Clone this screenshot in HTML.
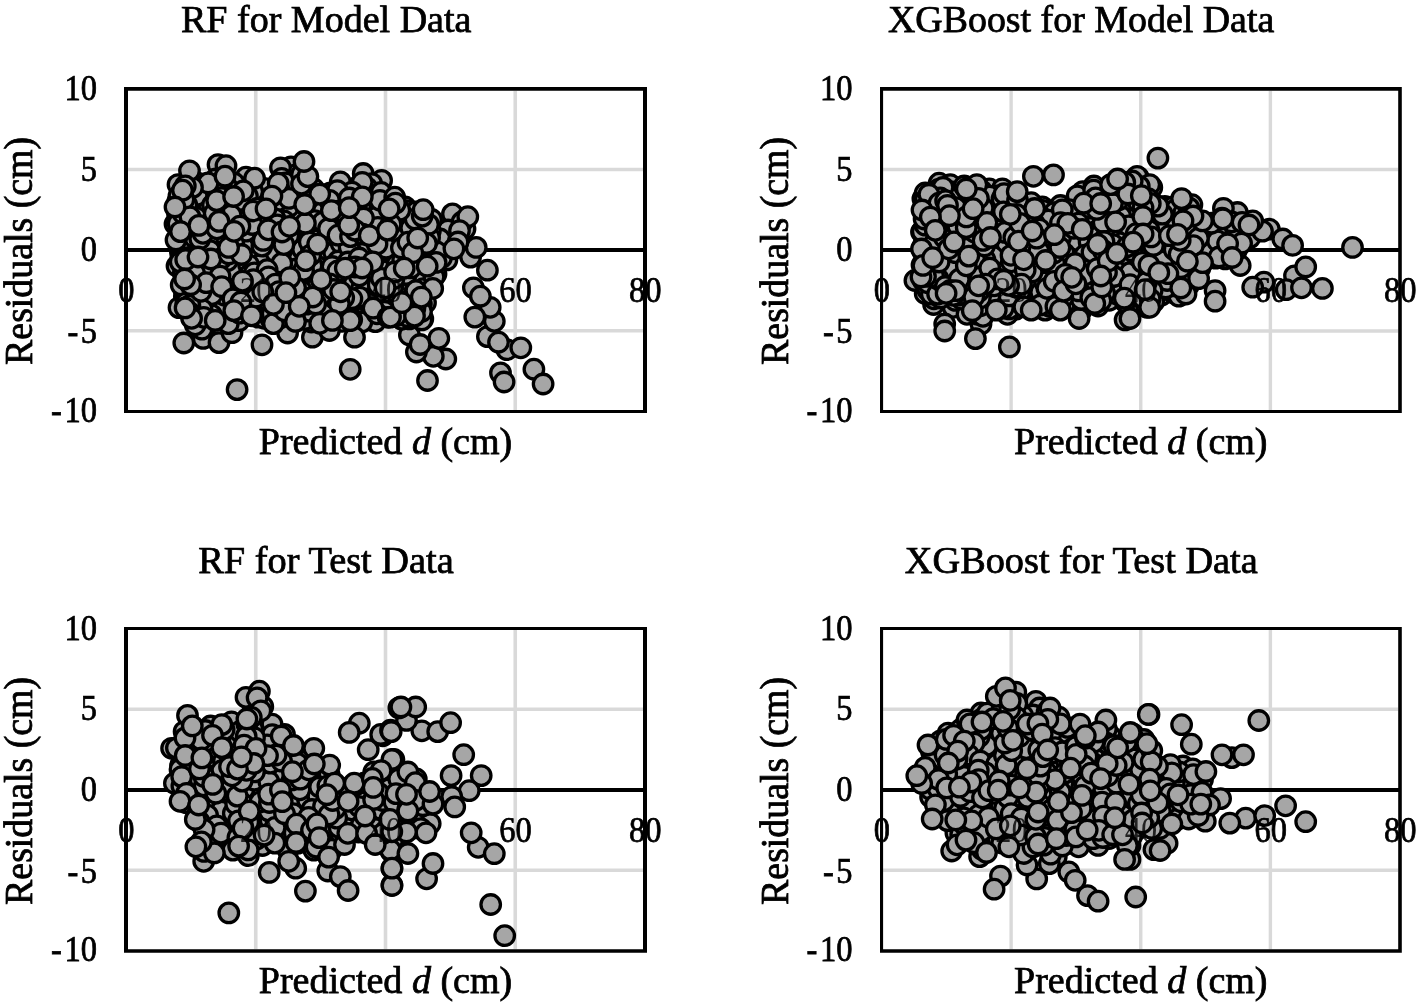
<!DOCTYPE html>
<html><head><meta charset="utf-8"><title>Residual plots</title>
<style>html,body{margin:0;padding:0;background:#fff}svg{display:block}text{font-family:"Liberation Serif","Times New Roman",serif;fill:#000;stroke:#000;stroke-width:0.75px}</style></head><body>
<svg width="1421" height="1004" viewBox="0 0 1421 1004" font-size="37">
<rect width="1421" height="1004" fill="#fff"/>
<g>
<path d="M255.75 90.7V409.9M385.50 90.7V409.9M515.25 90.7V409.9" stroke="#d9d9d9" stroke-width="3.6" fill="none"/>
<path d="M128.0 169.55H643.0M128.0 330.85H643.0" stroke="#d9d9d9" stroke-width="3.5" fill="none"/>
<path d="M124.0 87.1H128.0V413.1H124.0ZM643.0 87.1H647.0V413.1H643.0ZM124.0 87.1H647.0V90.7H124.0ZM124.0 409.9H647.0V413.1H124.0ZM124.0 248.0H647.0V252.0H124.0Z" fill="#000"/>
<text x="326.2" y="32.2" text-anchor="middle" textLength="290.5" lengthAdjust="spacingAndGlyphs">RF for Model Data</text>
<text font-size="35.3" x="97.0" y="100.0" text-anchor="end" textLength="32.5" lengthAdjust="spacingAndGlyphs">10</text>
<text font-size="35.3" x="97.0" y="180.7" text-anchor="end" textLength="16.2" lengthAdjust="spacingAndGlyphs">5</text>
<text font-size="35.3" x="97.0" y="261.3" text-anchor="end" textLength="16.2" lengthAdjust="spacingAndGlyphs">0</text>
<text font-size="35.3" x="97.0" y="343.2" text-anchor="end" textLength="29.6" lengthAdjust="spacingAndGlyphs"><tspan letter-spacing="2.8">-</tspan>5</text>
<text font-size="35.3" x="97.0" y="421.7" text-anchor="end" textLength="45.9" lengthAdjust="spacingAndGlyphs"><tspan letter-spacing="2.8">-</tspan>10</text>
<text x="385.5" y="453.5" text-anchor="middle" textLength="253.5" lengthAdjust="spacingAndGlyphs">Predicted <tspan font-style="italic">d</tspan> (cm)</text>
<text transform="translate(32.2 250.9) rotate(-90) scale(1 1.07)" text-anchor="middle" textLength="228.0" lengthAdjust="spacingAndGlyphs">Residuals (cm)</text>
<g fill="#a6a6a6" stroke="#000" stroke-width="3.3">
<circle cx="269.5" cy="242.9" r="9.75"/><circle cx="377.7" cy="186.4" r="9.75"/><circle cx="203.2" cy="210.7" r="9.75"/><circle cx="384.4" cy="257.1" r="9.75"/><circle cx="354.0" cy="202.9" r="9.75"/><circle cx="316.2" cy="232.7" r="9.75"/><circle cx="216.5" cy="329.3" r="9.75"/><circle cx="363.2" cy="173.5" r="9.75"/>
<circle cx="270.9" cy="190.1" r="9.75"/><circle cx="299.0" cy="234.4" r="9.75"/><circle cx="302.0" cy="242.2" r="9.75"/><circle cx="405.1" cy="206.9" r="9.75"/><circle cx="250.1" cy="236.7" r="9.75"/><circle cx="411.6" cy="234.7" r="9.75"/><circle cx="381.6" cy="180.4" r="9.75"/><circle cx="198.7" cy="284.6" r="9.75"/>
<circle cx="321.8" cy="229.1" r="9.75"/><circle cx="177.5" cy="213.7" r="9.75"/><circle cx="365.9" cy="261.0" r="9.75"/><circle cx="247.5" cy="258.5" r="9.75"/><circle cx="307.0" cy="234.4" r="9.75"/><circle cx="385.1" cy="216.0" r="9.75"/><circle cx="283.4" cy="299.0" r="9.75"/><circle cx="287.1" cy="177.1" r="9.75"/>
<circle cx="218.0" cy="164.6" r="9.75"/><circle cx="407.3" cy="309.3" r="9.75"/><circle cx="308.5" cy="291.5" r="9.75"/><circle cx="341.9" cy="321.3" r="9.75"/><circle cx="266.9" cy="215.6" r="9.75"/><circle cx="208.6" cy="330.8" r="9.75"/><circle cx="204.3" cy="238.2" r="9.75"/><circle cx="226.0" cy="165.7" r="9.75"/>
<circle cx="452.5" cy="213.9" r="9.75"/><circle cx="312.4" cy="337.2" r="9.75"/><circle cx="387.9" cy="304.0" r="9.75"/><circle cx="199.8" cy="262.0" r="9.75"/><circle cx="244.2" cy="208.2" r="9.75"/><circle cx="394.8" cy="302.3" r="9.75"/><circle cx="205.5" cy="195.0" r="9.75"/><circle cx="308.4" cy="183.7" r="9.75"/>
<circle cx="430.0" cy="285.0" r="9.75"/><circle cx="359.5" cy="249.5" r="9.75"/><circle cx="197.5" cy="232.9" r="9.75"/><circle cx="223.6" cy="280.6" r="9.75"/><circle cx="382.6" cy="240.5" r="9.75"/><circle cx="382.5" cy="209.6" r="9.75"/><circle cx="221.3" cy="248.9" r="9.75"/><circle cx="207.0" cy="200.7" r="9.75"/>
<circle cx="182.3" cy="268.9" r="9.75"/><circle cx="180.4" cy="251.9" r="9.75"/><circle cx="260.2" cy="302.6" r="9.75"/><circle cx="326.4" cy="194.6" r="9.75"/><circle cx="298.4" cy="253.3" r="9.75"/><circle cx="214.5" cy="185.0" r="9.75"/><circle cx="301.4" cy="229.3" r="9.75"/><circle cx="371.1" cy="194.6" r="9.75"/>
<circle cx="374.5" cy="270.2" r="9.75"/><circle cx="187.9" cy="273.5" r="9.75"/><circle cx="286.3" cy="317.3" r="9.75"/><circle cx="391.8" cy="215.2" r="9.75"/><circle cx="194.4" cy="305.7" r="9.75"/><circle cx="398.6" cy="308.9" r="9.75"/><circle cx="358.1" cy="306.9" r="9.75"/><circle cx="175.0" cy="224.0" r="9.75"/>
<circle cx="487.4" cy="336.6" r="9.75"/><circle cx="191.2" cy="277.0" r="9.75"/><circle cx="282.4" cy="254.2" r="9.75"/><circle cx="533.9" cy="369.2" r="9.75"/><circle cx="242.5" cy="295.6" r="9.75"/><circle cx="235.6" cy="255.8" r="9.75"/><circle cx="418.0" cy="225.2" r="9.75"/><circle cx="261.2" cy="229.7" r="9.75"/>
<circle cx="258.5" cy="189.3" r="9.75"/><circle cx="221.1" cy="234.5" r="9.75"/><circle cx="409.4" cy="335.0" r="9.75"/><circle cx="194.7" cy="265.1" r="9.75"/><circle cx="371.0" cy="285.8" r="9.75"/><circle cx="250.8" cy="217.9" r="9.75"/><circle cx="423.2" cy="256.8" r="9.75"/><circle cx="237.4" cy="190.9" r="9.75"/>
<circle cx="297.9" cy="313.5" r="9.75"/><circle cx="277.0" cy="270.6" r="9.75"/><circle cx="286.2" cy="249.7" r="9.75"/><circle cx="424.1" cy="249.8" r="9.75"/><circle cx="403.6" cy="228.5" r="9.75"/><circle cx="377.7" cy="301.3" r="9.75"/><circle cx="357.4" cy="186.8" r="9.75"/><circle cx="269.0" cy="253.0" r="9.75"/>
<circle cx="448.0" cy="230.0" r="9.75"/><circle cx="184.9" cy="265.1" r="9.75"/><circle cx="313.3" cy="201.9" r="9.75"/><circle cx="254.8" cy="250.5" r="9.75"/><circle cx="199.5" cy="274.3" r="9.75"/><circle cx="445.8" cy="359.0" r="9.75"/><circle cx="288.8" cy="322.2" r="9.75"/><circle cx="389.9" cy="263.1" r="9.75"/>
<circle cx="190.7" cy="210.5" r="9.75"/><circle cx="184.4" cy="296.9" r="9.75"/><circle cx="182.0" cy="258.5" r="9.75"/><circle cx="342.4" cy="202.0" r="9.75"/><circle cx="381.4" cy="221.8" r="9.75"/><circle cx="263.9" cy="195.1" r="9.75"/><circle cx="267.5" cy="306.9" r="9.75"/><circle cx="241.0" cy="260.0" r="9.75"/>
<circle cx="399.0" cy="285.3" r="9.75"/><circle cx="433.3" cy="356.3" r="9.75"/><circle cx="199.6" cy="183.7" r="9.75"/><circle cx="410.2" cy="286.8" r="9.75"/><circle cx="205.0" cy="262.8" r="9.75"/><circle cx="318.3" cy="250.7" r="9.75"/><circle cx="292.2" cy="179.4" r="9.75"/><circle cx="419.2" cy="272.7" r="9.75"/>
<circle cx="252.8" cy="204.5" r="9.75"/><circle cx="337.3" cy="314.2" r="9.75"/><circle cx="275.2" cy="259.5" r="9.75"/><circle cx="197.6" cy="249.1" r="9.75"/><circle cx="215.7" cy="265.0" r="9.75"/><circle cx="391.7" cy="236.2" r="9.75"/><circle cx="367.4" cy="272.7" r="9.75"/><circle cx="473.4" cy="287.8" r="9.75"/>
<circle cx="446.9" cy="259.9" r="9.75"/><circle cx="266.5" cy="301.2" r="9.75"/><circle cx="215.7" cy="179.0" r="9.75"/><circle cx="257.6" cy="310.4" r="9.75"/><circle cx="260.9" cy="201.5" r="9.75"/><circle cx="370.9" cy="292.6" r="9.75"/><circle cx="388.9" cy="296.5" r="9.75"/><circle cx="329.0" cy="294.3" r="9.75"/>
<circle cx="220.3" cy="269.8" r="9.75"/><circle cx="228.4" cy="314.0" r="9.75"/><circle cx="290.7" cy="271.2" r="9.75"/><circle cx="287.4" cy="287.1" r="9.75"/><circle cx="322.7" cy="307.9" r="9.75"/><circle cx="321.0" cy="271.1" r="9.75"/><circle cx="431.6" cy="219.5" r="9.75"/><circle cx="262.8" cy="312.6" r="9.75"/>
<circle cx="348.0" cy="291.4" r="9.75"/><circle cx="494.3" cy="321.3" r="9.75"/><circle cx="177.0" cy="266.0" r="9.75"/><circle cx="238.1" cy="288.2" r="9.75"/><circle cx="351.8" cy="219.4" r="9.75"/><circle cx="192.4" cy="205.4" r="9.75"/><circle cx="242.8" cy="237.6" r="9.75"/><circle cx="417.2" cy="261.3" r="9.75"/>
<circle cx="213.9" cy="195.3" r="9.75"/><circle cx="272.7" cy="266.4" r="9.75"/><circle cx="220.0" cy="302.0" r="9.75"/><circle cx="311.3" cy="322.0" r="9.75"/><circle cx="371.9" cy="248.4" r="9.75"/><circle cx="419.2" cy="244.7" r="9.75"/><circle cx="345.3" cy="189.6" r="9.75"/><circle cx="293.5" cy="249.8" r="9.75"/>
<circle cx="245.3" cy="314.2" r="9.75"/><circle cx="266.6" cy="202.6" r="9.75"/><circle cx="268.3" cy="263.0" r="9.75"/><circle cx="286.8" cy="258.0" r="9.75"/><circle cx="294.7" cy="227.8" r="9.75"/><circle cx="189.7" cy="262.6" r="9.75"/><circle cx="179.2" cy="241.1" r="9.75"/><circle cx="398.3" cy="220.4" r="9.75"/>
<circle cx="289.0" cy="212.4" r="9.75"/><circle cx="355.1" cy="291.5" r="9.75"/><circle cx="201.0" cy="323.5" r="9.75"/><circle cx="441.5" cy="257.7" r="9.75"/><circle cx="231.0" cy="201.7" r="9.75"/><circle cx="249.7" cy="247.2" r="9.75"/><circle cx="327.8" cy="301.6" r="9.75"/><circle cx="465.0" cy="229.0" r="9.75"/>
<circle cx="231.4" cy="208.2" r="9.75"/><circle cx="202.5" cy="278.2" r="9.75"/><circle cx="291.0" cy="166.8" r="9.75"/><circle cx="320.2" cy="316.8" r="9.75"/><circle cx="184.0" cy="290.0" r="9.75"/><circle cx="239.4" cy="232.8" r="9.75"/><circle cx="265.3" cy="257.9" r="9.75"/><circle cx="195.9" cy="320.8" r="9.75"/>
<circle cx="356.8" cy="243.3" r="9.75"/><circle cx="308.4" cy="275.2" r="9.75"/><circle cx="244.5" cy="289.9" r="9.75"/><circle cx="228.8" cy="303.4" r="9.75"/><circle cx="402.3" cy="223.7" r="9.75"/><circle cx="257.7" cy="317.2" r="9.75"/><circle cx="436.0" cy="274.0" r="9.75"/><circle cx="400.6" cy="278.9" r="9.75"/>
<circle cx="204.4" cy="205.9" r="9.75"/><circle cx="227.8" cy="233.7" r="9.75"/><circle cx="344.8" cy="278.0" r="9.75"/><circle cx="295.2" cy="275.9" r="9.75"/><circle cx="371.7" cy="183.6" r="9.75"/><circle cx="220.5" cy="323.3" r="9.75"/><circle cx="246.0" cy="177.2" r="9.75"/><circle cx="183.3" cy="273.3" r="9.75"/>
<circle cx="242.2" cy="267.7" r="9.75"/><circle cx="343.9" cy="219.9" r="9.75"/><circle cx="293.3" cy="257.5" r="9.75"/><circle cx="246.1" cy="225.4" r="9.75"/><circle cx="429.7" cy="253.7" r="9.75"/><circle cx="178.0" cy="184.6" r="9.75"/><circle cx="324.2" cy="264.6" r="9.75"/><circle cx="257.8" cy="288.9" r="9.75"/>
<circle cx="206.9" cy="325.4" r="9.75"/><circle cx="204.8" cy="227.6" r="9.75"/><circle cx="256.8" cy="265.1" r="9.75"/><circle cx="181.1" cy="209.3" r="9.75"/><circle cx="229.0" cy="291.7" r="9.75"/><circle cx="266.4" cy="283.2" r="9.75"/><circle cx="276.9" cy="207.9" r="9.75"/><circle cx="322.7" cy="202.8" r="9.75"/>
<circle cx="434.2" cy="243.5" r="9.75"/><circle cx="195.0" cy="242.5" r="9.75"/><circle cx="231.8" cy="319.1" r="9.75"/><circle cx="259.4" cy="281.5" r="9.75"/><circle cx="294.2" cy="200.5" r="9.75"/><circle cx="278.6" cy="214.4" r="9.75"/><circle cx="190.8" cy="201.1" r="9.75"/><circle cx="394.9" cy="253.6" r="9.75"/>
<circle cx="194.9" cy="222.8" r="9.75"/><circle cx="273.9" cy="278.4" r="9.75"/><circle cx="371.1" cy="319.9" r="9.75"/><circle cx="281.5" cy="195.4" r="9.75"/><circle cx="427.4" cy="287.8" r="9.75"/><circle cx="290.5" cy="265.3" r="9.75"/><circle cx="357.7" cy="315.9" r="9.75"/><circle cx="295.7" cy="174.8" r="9.75"/>
<circle cx="191.6" cy="196.6" r="9.75"/><circle cx="210.0" cy="232.9" r="9.75"/><circle cx="188.2" cy="268.2" r="9.75"/><circle cx="406.5" cy="210.7" r="9.75"/><circle cx="198.9" cy="188.6" r="9.75"/><circle cx="311.3" cy="226.6" r="9.75"/><circle cx="381.2" cy="267.2" r="9.75"/><circle cx="371.4" cy="203.7" r="9.75"/>
<circle cx="367.8" cy="211.0" r="9.75"/><circle cx="260.6" cy="251.9" r="9.75"/><circle cx="235.3" cy="293.3" r="9.75"/><circle cx="286.6" cy="303.9" r="9.75"/><circle cx="313.7" cy="315.3" r="9.75"/><circle cx="332.4" cy="306.7" r="9.75"/><circle cx="487.4" cy="270.2" r="9.75"/><circle cx="342.6" cy="284.1" r="9.75"/>
<circle cx="405.5" cy="221.6" r="9.75"/><circle cx="203.8" cy="245.3" r="9.75"/><circle cx="327.3" cy="238.2" r="9.75"/><circle cx="366.2" cy="252.0" r="9.75"/><circle cx="237.1" cy="389.6" r="9.75"/><circle cx="264.3" cy="318.3" r="9.75"/><circle cx="431.3" cy="274.5" r="9.75"/><circle cx="274.4" cy="245.6" r="9.75"/>
<circle cx="370.1" cy="218.0" r="9.75"/><circle cx="272.2" cy="204.7" r="9.75"/><circle cx="185.9" cy="284.5" r="9.75"/><circle cx="311.6" cy="282.6" r="9.75"/><circle cx="403.5" cy="291.6" r="9.75"/><circle cx="337.2" cy="197.1" r="9.75"/><circle cx="180.9" cy="257.4" r="9.75"/><circle cx="352.4" cy="256.6" r="9.75"/>
<circle cx="305.0" cy="319.5" r="9.75"/><circle cx="367.3" cy="312.9" r="9.75"/><circle cx="324.0" cy="257.4" r="9.75"/><circle cx="414.9" cy="281.7" r="9.75"/><circle cx="350.2" cy="369.3" r="9.75"/><circle cx="188.4" cy="192.3" r="9.75"/><circle cx="182.3" cy="218.5" r="9.75"/><circle cx="214.6" cy="236.1" r="9.75"/>
<circle cx="203.2" cy="252.9" r="9.75"/><circle cx="490.2" cy="307.3" r="9.75"/><circle cx="398.6" cy="296.8" r="9.75"/><circle cx="402.2" cy="239.3" r="9.75"/><circle cx="367.2" cy="224.4" r="9.75"/><circle cx="313.6" cy="188.7" r="9.75"/><circle cx="210.7" cy="308.5" r="9.75"/><circle cx="193.3" cy="192.2" r="9.75"/>
<circle cx="246.9" cy="202.8" r="9.75"/><circle cx="344.9" cy="231.1" r="9.75"/><circle cx="255.4" cy="258.9" r="9.75"/><circle cx="330.5" cy="193.0" r="9.75"/><circle cx="328.8" cy="313.0" r="9.75"/><circle cx="181.8" cy="246.7" r="9.75"/><circle cx="220.0" cy="205.7" r="9.75"/><circle cx="223.4" cy="329.0" r="9.75"/>
<circle cx="366.6" cy="187.6" r="9.75"/><circle cx="196.3" cy="292.9" r="9.75"/><circle cx="221.3" cy="310.9" r="9.75"/><circle cx="261.7" cy="213.4" r="9.75"/><circle cx="213.6" cy="278.0" r="9.75"/><circle cx="409.1" cy="300.3" r="9.75"/><circle cx="241.0" cy="273.8" r="9.75"/><circle cx="199.7" cy="267.7" r="9.75"/>
<circle cx="188.5" cy="245.6" r="9.75"/><circle cx="219.9" cy="212.6" r="9.75"/><circle cx="199.6" cy="313.7" r="9.75"/><circle cx="352.0" cy="274.5" r="9.75"/><circle cx="388.4" cy="198.7" r="9.75"/><circle cx="203.2" cy="338.4" r="9.75"/><circle cx="500.5" cy="372.9" r="9.75"/><circle cx="185.8" cy="250.7" r="9.75"/>
<circle cx="343.3" cy="255.7" r="9.75"/><circle cx="301.7" cy="191.9" r="9.75"/><circle cx="280.5" cy="167.8" r="9.75"/><circle cx="192.6" cy="252.5" r="9.75"/><circle cx="257.4" cy="195.4" r="9.75"/><circle cx="220.9" cy="317.3" r="9.75"/><circle cx="331.7" cy="259.5" r="9.75"/><circle cx="424.3" cy="281.3" r="9.75"/>
<circle cx="276.0" cy="230.7" r="9.75"/><circle cx="272.4" cy="211.2" r="9.75"/><circle cx="315.0" cy="274.3" r="9.75"/><circle cx="280.4" cy="278.7" r="9.75"/><circle cx="196.9" cy="279.4" r="9.75"/><circle cx="362.2" cy="182.3" r="9.75"/><circle cx="296.1" cy="208.0" r="9.75"/><circle cx="264.1" cy="223.6" r="9.75"/>
<circle cx="305.1" cy="284.9" r="9.75"/><circle cx="378.2" cy="292.1" r="9.75"/><circle cx="250.5" cy="304.3" r="9.75"/><circle cx="340.3" cy="181.8" r="9.75"/><circle cx="184.0" cy="240.6" r="9.75"/><circle cx="351.9" cy="192.1" r="9.75"/><circle cx="248.7" cy="186.6" r="9.75"/><circle cx="359.5" cy="212.7" r="9.75"/>
<circle cx="228.4" cy="181.0" r="9.75"/><circle cx="271.3" cy="298.1" r="9.75"/><circle cx="262.0" cy="344.8" r="9.75"/><circle cx="420.4" cy="273.9" r="9.75"/><circle cx="375.3" cy="321.6" r="9.75"/><circle cx="506.9" cy="349.7" r="9.75"/><circle cx="318.1" cy="261.3" r="9.75"/><circle cx="247.0" cy="252.1" r="9.75"/>
<circle cx="227.0" cy="285.0" r="9.75"/><circle cx="422.8" cy="318.9" r="9.75"/><circle cx="203.9" cy="287.7" r="9.75"/><circle cx="438.8" cy="338.3" r="9.75"/><circle cx="292.0" cy="283.0" r="9.75"/><circle cx="313.6" cy="212.4" r="9.75"/><circle cx="281.7" cy="178.4" r="9.75"/><circle cx="387.1" cy="270.9" r="9.75"/>
<circle cx="480.4" cy="296.2" r="9.75"/><circle cx="361.9" cy="322.0" r="9.75"/><circle cx="206.2" cy="216.3" r="9.75"/><circle cx="425.5" cy="302.7" r="9.75"/><circle cx="462.0" cy="222.0" r="9.75"/><circle cx="186.0" cy="236.3" r="9.75"/><circle cx="421.4" cy="304.1" r="9.75"/><circle cx="337.3" cy="190.6" r="9.75"/>
<circle cx="292.7" cy="220.6" r="9.75"/><circle cx="262.8" cy="263.0" r="9.75"/><circle cx="354.5" cy="337.2" r="9.75"/><circle cx="194.5" cy="181.6" r="9.75"/><circle cx="188.4" cy="182.2" r="9.75"/><circle cx="219.8" cy="191.8" r="9.75"/><circle cx="291.2" cy="312.6" r="9.75"/><circle cx="177.8" cy="201.3" r="9.75"/>
<circle cx="200.6" cy="296.0" r="9.75"/><circle cx="334.6" cy="277.8" r="9.75"/><circle cx="264.1" cy="188.4" r="9.75"/><circle cx="227.3" cy="197.3" r="9.75"/><circle cx="206.2" cy="291.8" r="9.75"/><circle cx="327.7" cy="250.0" r="9.75"/><circle cx="250.5" cy="310.1" r="9.75"/><circle cx="433.0" cy="260.0" r="9.75"/>
<circle cx="281.7" cy="238.2" r="9.75"/><circle cx="276.3" cy="240.3" r="9.75"/><circle cx="377.9" cy="216.0" r="9.75"/><circle cx="189.2" cy="239.6" r="9.75"/><circle cx="294.8" cy="242.1" r="9.75"/><circle cx="190.4" cy="257.2" r="9.75"/><circle cx="381.1" cy="192.4" r="9.75"/><circle cx="197.1" cy="204.5" r="9.75"/>
<circle cx="237.6" cy="205.6" r="9.75"/><circle cx="406.2" cy="274.4" r="9.75"/><circle cx="354.1" cy="284.0" r="9.75"/><circle cx="291.5" cy="306.5" r="9.75"/><circle cx="394.7" cy="245.8" r="9.75"/><circle cx="283.5" cy="269.3" r="9.75"/><circle cx="209.5" cy="299.7" r="9.75"/><circle cx="234.1" cy="183.0" r="9.75"/>
<circle cx="264.5" cy="234.9" r="9.75"/><circle cx="249.7" cy="298.4" r="9.75"/><circle cx="209.9" cy="191.2" r="9.75"/><circle cx="270.4" cy="235.9" r="9.75"/><circle cx="270.9" cy="319.1" r="9.75"/><circle cx="299.4" cy="198.6" r="9.75"/><circle cx="225.8" cy="217.0" r="9.75"/><circle cx="299.0" cy="259.2" r="9.75"/>
<circle cx="227.5" cy="187.7" r="9.75"/><circle cx="299.5" cy="222.3" r="9.75"/><circle cx="440.0" cy="239.0" r="9.75"/><circle cx="211.8" cy="226.0" r="9.75"/><circle cx="198.7" cy="300.5" r="9.75"/><circle cx="316.9" cy="286.4" r="9.75"/><circle cx="349.3" cy="198.0" r="9.75"/><circle cx="391.7" cy="310.2" r="9.75"/>
<circle cx="330.3" cy="219.0" r="9.75"/><circle cx="392.7" cy="287.0" r="9.75"/><circle cx="323.0" cy="211.4" r="9.75"/><circle cx="236.2" cy="219.2" r="9.75"/><circle cx="361.4" cy="289.1" r="9.75"/><circle cx="287.6" cy="333.0" r="9.75"/><circle cx="257.2" cy="233.7" r="9.75"/><circle cx="304.3" cy="214.1" r="9.75"/>
<circle cx="322.9" cy="289.2" r="9.75"/><circle cx="279.5" cy="318.2" r="9.75"/><circle cx="216.1" cy="250.7" r="9.75"/><circle cx="398.5" cy="232.9" r="9.75"/><circle cx="182.0" cy="284.5" r="9.75"/><circle cx="282.8" cy="202.8" r="9.75"/><circle cx="331.7" cy="243.7" r="9.75"/><circle cx="329.2" cy="273.5" r="9.75"/>
<circle cx="222.4" cy="264.6" r="9.75"/><circle cx="309.0" cy="194.7" r="9.75"/><circle cx="283.2" cy="210.7" r="9.75"/><circle cx="249.0" cy="284.9" r="9.75"/><circle cx="344.6" cy="315.3" r="9.75"/><circle cx="311.9" cy="265.4" r="9.75"/><circle cx="218.1" cy="240.8" r="9.75"/><circle cx="334.8" cy="298.4" r="9.75"/>
<circle cx="397.0" cy="264.2" r="9.75"/><circle cx="202.2" cy="219.9" r="9.75"/><circle cx="196.3" cy="211.5" r="9.75"/><circle cx="333.8" cy="252.7" r="9.75"/><circle cx="296.3" cy="215.8" r="9.75"/><circle cx="233.1" cy="237.5" r="9.75"/><circle cx="221.1" cy="182.8" r="9.75"/><circle cx="286.4" cy="188.7" r="9.75"/>
<circle cx="234.9" cy="275.3" r="9.75"/><circle cx="252.2" cy="230.2" r="9.75"/><circle cx="277.6" cy="300.1" r="9.75"/><circle cx="387.8" cy="281.1" r="9.75"/><circle cx="423.3" cy="288.6" r="9.75"/><circle cx="410.8" cy="228.0" r="9.75"/><circle cx="199.8" cy="200.8" r="9.75"/><circle cx="219.0" cy="342.6" r="9.75"/>
<circle cx="225.3" cy="203.9" r="9.75"/><circle cx="341.2" cy="243.5" r="9.75"/><circle cx="338.2" cy="261.0" r="9.75"/><circle cx="296.1" cy="269.0" r="9.75"/><circle cx="409.1" cy="258.6" r="9.75"/><circle cx="410.8" cy="267.9" r="9.75"/><circle cx="434.0" cy="277.0" r="9.75"/><circle cx="278.0" cy="312.6" r="9.75"/>
<circle cx="467.8" cy="216.7" r="9.75"/><circle cx="202.6" cy="258.2" r="9.75"/><circle cx="209.5" cy="244.3" r="9.75"/><circle cx="194.0" cy="311.7" r="9.75"/><circle cx="188.2" cy="293.6" r="9.75"/><circle cx="409.4" cy="318.9" r="9.75"/><circle cx="308.7" cy="311.1" r="9.75"/><circle cx="177.1" cy="206.4" r="9.75"/>
<circle cx="374.5" cy="278.6" r="9.75"/><circle cx="298.1" cy="282.0" r="9.75"/><circle cx="421.8" cy="319.9" r="9.75"/><circle cx="226.9" cy="273.2" r="9.75"/><circle cx="368.8" cy="303.1" r="9.75"/><circle cx="232.0" cy="332.7" r="9.75"/><circle cx="415.9" cy="211.9" r="9.75"/><circle cx="193.7" cy="300.2" r="9.75"/>
<circle cx="377.1" cy="236.5" r="9.75"/><circle cx="239.0" cy="320.7" r="9.75"/><circle cx="336.9" cy="217.9" r="9.75"/><circle cx="295.0" cy="188.4" r="9.75"/><circle cx="217.5" cy="294.9" r="9.75"/><circle cx="261.7" cy="272.4" r="9.75"/><circle cx="416.4" cy="352.0" r="9.75"/><circle cx="470.6" cy="257.1" r="9.75"/>
<circle cx="394.0" cy="278.5" r="9.75"/><circle cx="233.4" cy="262.1" r="9.75"/><circle cx="320.8" cy="295.5" r="9.75"/><circle cx="179.0" cy="307.6" r="9.75"/><circle cx="216.1" cy="306.9" r="9.75"/><circle cx="257.8" cy="221.6" r="9.75"/><circle cx="238.2" cy="250.0" r="9.75"/><circle cx="214.0" cy="287.0" r="9.75"/>
<circle cx="384.5" cy="311.3" r="9.75"/><circle cx="236.6" cy="281.8" r="9.75"/><circle cx="420.9" cy="232.2" r="9.75"/><circle cx="349.1" cy="247.0" r="9.75"/><circle cx="377.1" cy="313.8" r="9.75"/><circle cx="207.0" cy="222.6" r="9.75"/><circle cx="203.5" cy="301.9" r="9.75"/><circle cx="401.7" cy="319.2" r="9.75"/>
<circle cx="257.6" cy="240.9" r="9.75"/><circle cx="185.9" cy="209.5" r="9.75"/><circle cx="432.7" cy="288.4" r="9.75"/><circle cx="288.7" cy="206.8" r="9.75"/><circle cx="365.9" cy="279.6" r="9.75"/><circle cx="204.3" cy="190.3" r="9.75"/><circle cx="292.1" cy="193.4" r="9.75"/><circle cx="275.9" cy="252.5" r="9.75"/>
<circle cx="226.9" cy="240.6" r="9.75"/><circle cx="335.2" cy="225.4" r="9.75"/><circle cx="314.7" cy="220.7" r="9.75"/><circle cx="180.2" cy="262.1" r="9.75"/><circle cx="202.0" cy="329.2" r="9.75"/><circle cx="210.9" cy="272.6" r="9.75"/><circle cx="436.8" cy="251.8" r="9.75"/><circle cx="195.1" cy="288.1" r="9.75"/>
<circle cx="230.2" cy="279.6" r="9.75"/><circle cx="203.9" cy="271.3" r="9.75"/><circle cx="272.2" cy="313.5" r="9.75"/><circle cx="281.8" cy="263.2" r="9.75"/><circle cx="302.6" cy="249.3" r="9.75"/><circle cx="415.1" cy="219.1" r="9.75"/><circle cx="430.4" cy="230.7" r="9.75"/><circle cx="200.9" cy="214.7" r="9.75"/>
<circle cx="429.6" cy="237.5" r="9.75"/><circle cx="407.8" cy="316.7" r="9.75"/><circle cx="378.2" cy="284.9" r="9.75"/><circle cx="213.3" cy="219.8" r="9.75"/><circle cx="303.6" cy="270.3" r="9.75"/><circle cx="359.5" cy="297.1" r="9.75"/><circle cx="476.2" cy="247.4" r="9.75"/><circle cx="189.9" cy="221.4" r="9.75"/>
<circle cx="347.2" cy="308.5" r="9.75"/><circle cx="421.5" cy="311.5" r="9.75"/><circle cx="436.1" cy="262.4" r="9.75"/><circle cx="242.9" cy="218.1" r="9.75"/><circle cx="252.7" cy="191.4" r="9.75"/><circle cx="285.3" cy="182.9" r="9.75"/><circle cx="194.5" cy="228.5" r="9.75"/><circle cx="224.6" cy="295.2" r="9.75"/>
<circle cx="189.6" cy="230.4" r="9.75"/><circle cx="351.7" cy="319.5" r="9.75"/><circle cx="209.9" cy="250.6" r="9.75"/><circle cx="189.6" cy="298.1" r="9.75"/><circle cx="346.5" cy="213.8" r="9.75"/><circle cx="194.2" cy="237.2" r="9.75"/><circle cx="232.7" cy="270.2" r="9.75"/><circle cx="208.2" cy="210.3" r="9.75"/>
<circle cx="322.9" cy="222.1" r="9.75"/><circle cx="291.9" cy="294.2" r="9.75"/><circle cx="414.9" cy="308.3" r="9.75"/><circle cx="211.4" cy="314.9" r="9.75"/><circle cx="377.1" cy="253.8" r="9.75"/><circle cx="368.3" cy="242.9" r="9.75"/><circle cx="428.5" cy="224.4" r="9.75"/><circle cx="243.2" cy="246.7" r="9.75"/>
<circle cx="247.4" cy="196.0" r="9.75"/><circle cx="348.1" cy="262.0" r="9.75"/><circle cx="379.9" cy="200.3" r="9.75"/><circle cx="504.1" cy="382.0" r="9.75"/><circle cx="196.1" cy="217.3" r="9.75"/><circle cx="227.3" cy="260.7" r="9.75"/><circle cx="498.5" cy="342.2" r="9.75"/><circle cx="248.6" cy="264.8" r="9.75"/>
<circle cx="228.3" cy="323.6" r="9.75"/><circle cx="249.1" cy="275.0" r="9.75"/><circle cx="212.0" cy="294.6" r="9.75"/><circle cx="254.6" cy="178.2" r="9.75"/><circle cx="277.1" cy="201.1" r="9.75"/><circle cx="283.9" cy="220.8" r="9.75"/><circle cx="197.1" cy="195.3" r="9.75"/><circle cx="225.5" cy="209.9" r="9.75"/>
<circle cx="306.6" cy="304.2" r="9.75"/><circle cx="386.1" cy="248.1" r="9.75"/><circle cx="377.8" cy="227.4" r="9.75"/><circle cx="288.7" cy="235.5" r="9.75"/><circle cx="181.2" cy="285.0" r="9.75"/><circle cx="246.1" cy="231.2" r="9.75"/><circle cx="543.1" cy="384.0" r="9.75"/><circle cx="420.1" cy="344.5" r="9.75"/>
<circle cx="195.2" cy="324.8" r="9.75"/><circle cx="212.5" cy="205.1" r="9.75"/><circle cx="402.7" cy="259.9" r="9.75"/><circle cx="351.9" cy="298.7" r="9.75"/><circle cx="272.6" cy="292.5" r="9.75"/><circle cx="401.4" cy="247.9" r="9.75"/><circle cx="381.4" cy="278.3" r="9.75"/><circle cx="359.2" cy="275.8" r="9.75"/>
<circle cx="426.5" cy="243.4" r="9.75"/><circle cx="281.9" cy="285.2" r="9.75"/><circle cx="415.9" cy="290.7" r="9.75"/><circle cx="186.4" cy="226.5" r="9.75"/><circle cx="254.4" cy="272.8" r="9.75"/><circle cx="399.8" cy="210.3" r="9.75"/><circle cx="422.2" cy="216.1" r="9.75"/><circle cx="221.2" cy="258.6" r="9.75"/>
<circle cx="178.1" cy="223.5" r="9.75"/><circle cx="311.4" cy="248.3" r="9.75"/><circle cx="267.1" cy="269.7" r="9.75"/><circle cx="181.9" cy="204.0" r="9.75"/><circle cx="459.5" cy="230.6" r="9.75"/><circle cx="360.9" cy="204.8" r="9.75"/><circle cx="408.0" cy="242.2" r="9.75"/><circle cx="279.0" cy="189.3" r="9.75"/>
<circle cx="350.2" cy="320.7" r="9.75"/><circle cx="329.6" cy="200.4" r="9.75"/><circle cx="412.7" cy="252.7" r="9.75"/><circle cx="252.2" cy="292.7" r="9.75"/><circle cx="309.3" cy="242.1" r="9.75"/><circle cx="202.2" cy="309.6" r="9.75"/><circle cx="273.4" cy="323.6" r="9.75"/><circle cx="373.1" cy="308.2" r="9.75"/>
<circle cx="395.7" cy="315.9" r="9.75"/><circle cx="185.9" cy="303.1" r="9.75"/><circle cx="194.5" cy="273.1" r="9.75"/><circle cx="290.7" cy="299.7" r="9.75"/><circle cx="329.4" cy="330.5" r="9.75"/><circle cx="189.9" cy="305.4" r="9.75"/><circle cx="210.9" cy="259.0" r="9.75"/><circle cx="427.2" cy="266.2" r="9.75"/>
<circle cx="328.5" cy="228.5" r="9.75"/><circle cx="301.5" cy="174.6" r="9.75"/><circle cx="183.1" cy="213.5" r="9.75"/><circle cx="414.5" cy="316.1" r="9.75"/><circle cx="208.1" cy="182.9" r="9.75"/><circle cx="310.8" cy="254.9" r="9.75"/><circle cx="359.7" cy="223.6" r="9.75"/><circle cx="458.0" cy="242.0" r="9.75"/>
<circle cx="176.0" cy="240.0" r="9.75"/><circle cx="239.6" cy="313.1" r="9.75"/><circle cx="377.0" cy="244.0" r="9.75"/><circle cx="315.7" cy="304.0" r="9.75"/><circle cx="305.6" cy="260.6" r="9.75"/><circle cx="189.3" cy="312.3" r="9.75"/><circle cx="394.7" cy="197.2" r="9.75"/><circle cx="228.8" cy="221.7" r="9.75"/>
<circle cx="278.6" cy="306.3" r="9.75"/><circle cx="338.0" cy="235.2" r="9.75"/><circle cx="257.9" cy="208.1" r="9.75"/><circle cx="179.0" cy="195.7" r="9.75"/><circle cx="284.6" cy="310.8" r="9.75"/><circle cx="186.8" cy="204.9" r="9.75"/><circle cx="332.1" cy="266.5" r="9.75"/><circle cx="339.5" cy="210.8" r="9.75"/>
<circle cx="268.5" cy="276.8" r="9.75"/><circle cx="283.9" cy="244.6" r="9.75"/><circle cx="261.9" cy="246.1" r="9.75"/><circle cx="388.1" cy="317.3" r="9.75"/><circle cx="288.9" cy="198.4" r="9.75"/><circle cx="423.2" cy="209.7" r="9.75"/><circle cx="275.0" cy="218.8" r="9.75"/><circle cx="271.4" cy="224.8" r="9.75"/>
<circle cx="319.7" cy="323.3" r="9.75"/><circle cx="192.5" cy="187.4" r="9.75"/><circle cx="183.8" cy="343.0" r="9.75"/><circle cx="220.0" cy="276.1" r="9.75"/><circle cx="363.5" cy="218.0" r="9.75"/><circle cx="350.5" cy="236.6" r="9.75"/><circle cx="391.0" cy="224.3" r="9.75"/><circle cx="243.7" cy="307.6" r="9.75"/>
<circle cx="300.8" cy="299.9" r="9.75"/><circle cx="201.0" cy="291.3" r="9.75"/><circle cx="394.6" cy="272.0" r="9.75"/><circle cx="221.8" cy="197.5" r="9.75"/><circle cx="390.5" cy="317.1" r="9.75"/><circle cx="255.9" cy="297.2" r="9.75"/><circle cx="275.5" cy="284.1" r="9.75"/><circle cx="233.7" cy="243.8" r="9.75"/>
<circle cx="474.8" cy="317.1" r="9.75"/><circle cx="183.9" cy="199.4" r="9.75"/><circle cx="185.7" cy="259.7" r="9.75"/><circle cx="301.4" cy="290.8" r="9.75"/><circle cx="246.4" cy="213.6" r="9.75"/><circle cx="256.6" cy="216.2" r="9.75"/><circle cx="337.8" cy="270.8" r="9.75"/><circle cx="252.1" cy="224.5" r="9.75"/>
<circle cx="228.9" cy="254.0" r="9.75"/><circle cx="343.7" cy="297.7" r="9.75"/><circle cx="203.7" cy="317.3" r="9.75"/><circle cx="295.5" cy="321.4" r="9.75"/><circle cx="191.6" cy="318.3" r="9.75"/><circle cx="359.1" cy="258.0" r="9.75"/><circle cx="206.2" cy="282.7" r="9.75"/><circle cx="329.6" cy="283.8" r="9.75"/>
<circle cx="355.0" cy="267.0" r="9.75"/><circle cx="190.0" cy="216.9" r="9.75"/><circle cx="362.5" cy="234.1" r="9.75"/><circle cx="385.1" cy="287.8" r="9.75"/><circle cx="237.0" cy="213.1" r="9.75"/><circle cx="372.8" cy="261.8" r="9.75"/><circle cx="331.3" cy="210.6" r="9.75"/><circle cx="227.4" cy="228.1" r="9.75"/>
<circle cx="404.2" cy="268.2" r="9.75"/><circle cx="221.7" cy="286.7" r="9.75"/><circle cx="354.9" cy="230.1" r="9.75"/><circle cx="189.5" cy="170.8" r="9.75"/><circle cx="317.7" cy="244.1" r="9.75"/><circle cx="362.3" cy="196.8" r="9.75"/><circle cx="277.2" cy="224.9" r="9.75"/><circle cx="278.2" cy="183.2" r="9.75"/>
<circle cx="301.5" cy="184.1" r="9.75"/><circle cx="233.0" cy="298.9" r="9.75"/><circle cx="253.5" cy="279.7" r="9.75"/><circle cx="271.9" cy="196.1" r="9.75"/><circle cx="279.0" cy="291.6" r="9.75"/><circle cx="239.8" cy="200.4" r="9.75"/><circle cx="348.7" cy="225.2" r="9.75"/><circle cx="231.2" cy="215.2" r="9.75"/>
<circle cx="520.8" cy="347.8" r="9.75"/><circle cx="185.1" cy="307.9" r="9.75"/><circle cx="240.9" cy="302.0" r="9.75"/><circle cx="185.3" cy="185.9" r="9.75"/><circle cx="339.3" cy="303.4" r="9.75"/><circle cx="253.1" cy="211.0" r="9.75"/><circle cx="214.2" cy="213.2" r="9.75"/><circle cx="242.5" cy="281.1" r="9.75"/>
<circle cx="199.8" cy="239.0" r="9.75"/><circle cx="427.5" cy="380.5" r="9.75"/><circle cx="190.6" cy="284.7" r="9.75"/><circle cx="182.5" cy="190.2" r="9.75"/><circle cx="175.0" cy="207.0" r="9.75"/><circle cx="312.8" cy="297.0" r="9.75"/><circle cx="332.4" cy="320.4" r="9.75"/><circle cx="262.8" cy="292.0" r="9.75"/>
<circle cx="225.0" cy="176.2" r="9.75"/><circle cx="243.3" cy="190.8" r="9.75"/><circle cx="362.1" cy="268.0" r="9.75"/><circle cx="239.9" cy="226.2" r="9.75"/><circle cx="401.8" cy="302.7" r="9.75"/><circle cx="295.6" cy="287.5" r="9.75"/><circle cx="215.2" cy="320.4" r="9.75"/><circle cx="345.3" cy="268.1" r="9.75"/>
<circle cx="307.9" cy="176.6" r="9.75"/><circle cx="263.2" cy="240.4" r="9.75"/><circle cx="203.0" cy="233.3" r="9.75"/><circle cx="369.2" cy="235.6" r="9.75"/><circle cx="299.2" cy="306.3" r="9.75"/><circle cx="268.3" cy="229.8" r="9.75"/><circle cx="184.6" cy="279.0" r="9.75"/><circle cx="233.8" cy="310.6" r="9.75"/>
<circle cx="305.4" cy="223.2" r="9.75"/><circle cx="216.7" cy="200.6" r="9.75"/><circle cx="241.5" cy="254.5" r="9.75"/><circle cx="319.7" cy="194.1" r="9.75"/><circle cx="421.3" cy="297.1" r="9.75"/><circle cx="216.9" cy="228.8" r="9.75"/><circle cx="333.5" cy="289.5" r="9.75"/><circle cx="289.8" cy="277.6" r="9.75"/>
<circle cx="251.5" cy="315.8" r="9.75"/><circle cx="233.6" cy="196.5" r="9.75"/><circle cx="198.0" cy="257.0" r="9.75"/><circle cx="395.4" cy="203.1" r="9.75"/><circle cx="417.7" cy="238.0" r="9.75"/><circle cx="273.4" cy="304.3" r="9.75"/><circle cx="304.0" cy="161.5" r="9.75"/><circle cx="180.5" cy="231.6" r="9.75"/>
<circle cx="282.0" cy="232.0" r="9.75"/><circle cx="266.0" cy="208.8" r="9.75"/><circle cx="387.5" cy="230.1" r="9.75"/><circle cx="219.0" cy="221.4" r="9.75"/><circle cx="228.6" cy="247.4" r="9.75"/><circle cx="304.7" cy="204.6" r="9.75"/><circle cx="234.0" cy="231.3" r="9.75"/><circle cx="340.7" cy="291.8" r="9.75"/>
<circle cx="321.1" cy="279.6" r="9.75"/><circle cx="389.1" cy="208.9" r="9.75"/><circle cx="453.9" cy="248.8" r="9.75"/><circle cx="349.2" cy="207.6" r="9.75"/><circle cx="198.9" cy="225.4" r="9.75"/><circle cx="285.9" cy="292.7" r="9.75"/><circle cx="289.4" cy="226.3" r="9.75"/>
</g>
<text font-size="35.3" x="126.3" y="301.5" text-anchor="middle" textLength="16.2" lengthAdjust="spacingAndGlyphs">0</text>
<text font-size="35.3" x="256.1" y="301.5" text-anchor="middle" textLength="32.5" lengthAdjust="spacingAndGlyphs" style="stroke:none;fill-opacity:0.8">20</text>
<text font-size="35.3" x="385.8" y="301.5" text-anchor="middle" textLength="32.5" lengthAdjust="spacingAndGlyphs" style="stroke:none;fill-opacity:0.8">40</text>
<text font-size="35.3" x="515.5" y="301.5" text-anchor="middle" textLength="32.5" lengthAdjust="spacingAndGlyphs">60</text>
<text font-size="35.3" x="645.3" y="301.5" text-anchor="middle" textLength="32.5" lengthAdjust="spacingAndGlyphs">80</text>
</g>
<g>
<path d="M1011.12 90.7V409.9M1140.75 90.7V409.9M1270.38 90.7V409.9" stroke="#d9d9d9" stroke-width="3.4" fill="none"/>
<path d="M883.1 169.62H1398.2M883.1 330.88H1398.2" stroke="#d9d9d9" stroke-width="3.5" fill="none"/>
<path d="M880.0 87.1H883.1V413.1H880.0ZM1398.2 87.1H1401.8V413.1H1398.2ZM880.0 87.1H1401.8V90.7H880.0ZM880.0 409.9H1401.8V413.1H880.0ZM880.0 248.0H1401.8V252.0H880.0Z" fill="#000"/>
<text x="1081.1" y="32.2" text-anchor="middle" textLength="386.4" lengthAdjust="spacingAndGlyphs">XGBoost for Model Data</text>
<text font-size="35.3" x="852.5" y="100.1" text-anchor="end" textLength="32.5" lengthAdjust="spacingAndGlyphs">10</text>
<text font-size="35.3" x="852.5" y="180.7" text-anchor="end" textLength="16.2" lengthAdjust="spacingAndGlyphs">5</text>
<text font-size="35.3" x="852.5" y="261.4" text-anchor="end" textLength="16.2" lengthAdjust="spacingAndGlyphs">0</text>
<text font-size="35.3" x="852.5" y="343.2" text-anchor="end" textLength="29.6" lengthAdjust="spacingAndGlyphs"><tspan letter-spacing="2.8">-</tspan>5</text>
<text font-size="35.3" x="852.5" y="421.7" text-anchor="end" textLength="45.9" lengthAdjust="spacingAndGlyphs"><tspan letter-spacing="2.8">-</tspan>10</text>
<text x="1140.8" y="453.5" text-anchor="middle" textLength="253.5" lengthAdjust="spacingAndGlyphs">Predicted <tspan font-style="italic">d</tspan> (cm)</text>
<text transform="translate(787.7 250.9) rotate(-90) scale(1 1.07)" text-anchor="middle" textLength="228.0" lengthAdjust="spacingAndGlyphs">Residuals (cm)</text>
<g fill="#a6a6a6" stroke="#000" stroke-width="3.3">
<circle cx="1099.3" cy="258.3" r="9.75"/><circle cx="958.4" cy="286.2" r="9.75"/><circle cx="991.7" cy="231.2" r="9.75"/><circle cx="1077.3" cy="253.9" r="9.75"/><circle cx="1139.8" cy="239.8" r="9.75"/><circle cx="1045.1" cy="310.1" r="9.75"/><circle cx="1160.8" cy="283.5" r="9.75"/><circle cx="1255.5" cy="228.3" r="9.75"/>
<circle cx="1137.0" cy="225.6" r="9.75"/><circle cx="926.7" cy="269.4" r="9.75"/><circle cx="961.8" cy="307.3" r="9.75"/><circle cx="1166.5" cy="219.4" r="9.75"/><circle cx="1161.3" cy="295.1" r="9.75"/><circle cx="984.0" cy="275.4" r="9.75"/><circle cx="1083.1" cy="195.8" r="9.75"/><circle cx="985.2" cy="301.6" r="9.75"/>
<circle cx="1169.5" cy="211.0" r="9.75"/><circle cx="970.6" cy="222.9" r="9.75"/><circle cx="953.4" cy="286.4" r="9.75"/><circle cx="1070.6" cy="288.3" r="9.75"/><circle cx="1146.7" cy="307.3" r="9.75"/><circle cx="988.3" cy="205.2" r="9.75"/><circle cx="965.2" cy="277.7" r="9.75"/><circle cx="939.1" cy="183.2" r="9.75"/>
<circle cx="948.3" cy="226.2" r="9.75"/><circle cx="1155.2" cy="224.7" r="9.75"/><circle cx="1218.4" cy="231.6" r="9.75"/><circle cx="1149.2" cy="196.4" r="9.75"/><circle cx="1148.1" cy="257.6" r="9.75"/><circle cx="1060.4" cy="205.5" r="9.75"/><circle cx="1200.0" cy="267.9" r="9.75"/><circle cx="1009.8" cy="302.6" r="9.75"/>
<circle cx="993.1" cy="273.9" r="9.75"/><circle cx="1113.3" cy="237.8" r="9.75"/><circle cx="1112.3" cy="266.8" r="9.75"/><circle cx="1095.8" cy="283.9" r="9.75"/><circle cx="1002.4" cy="267.8" r="9.75"/><circle cx="1053.4" cy="244.2" r="9.75"/><circle cx="1011.8" cy="205.1" r="9.75"/><circle cx="946.3" cy="269.2" r="9.75"/>
<circle cx="981.0" cy="324.0" r="9.75"/><circle cx="1151.8" cy="187.4" r="9.75"/><circle cx="1122.0" cy="190.5" r="9.75"/><circle cx="1066.7" cy="234.1" r="9.75"/><circle cx="940.3" cy="225.1" r="9.75"/><circle cx="1240.2" cy="265.5" r="9.75"/><circle cx="997.7" cy="217.1" r="9.75"/><circle cx="1237.4" cy="212.5" r="9.75"/>
<circle cx="1156.0" cy="218.1" r="9.75"/><circle cx="1197.3" cy="258.6" r="9.75"/><circle cx="1030.0" cy="261.4" r="9.75"/><circle cx="1210.7" cy="229.7" r="9.75"/><circle cx="941.5" cy="247.6" r="9.75"/><circle cx="1039.0" cy="275.0" r="9.75"/><circle cx="963.0" cy="254.1" r="9.75"/><circle cx="962.4" cy="238.9" r="9.75"/>
<circle cx="1125.1" cy="319.9" r="9.75"/><circle cx="1070.9" cy="303.2" r="9.75"/><circle cx="1210.8" cy="239.3" r="9.75"/><circle cx="988.6" cy="279.0" r="9.75"/><circle cx="929.6" cy="242.1" r="9.75"/><circle cx="1033.4" cy="176.3" r="9.75"/><circle cx="933.4" cy="283.0" r="9.75"/><circle cx="1001.8" cy="246.8" r="9.75"/>
<circle cx="1210.9" cy="236.2" r="9.75"/><circle cx="959.7" cy="232.5" r="9.75"/><circle cx="972.0" cy="215.9" r="9.75"/><circle cx="989.3" cy="188.8" r="9.75"/><circle cx="967.8" cy="295.4" r="9.75"/><circle cx="969.4" cy="273.4" r="9.75"/><circle cx="1201.0" cy="252.8" r="9.75"/><circle cx="1164.8" cy="206.5" r="9.75"/>
<circle cx="922.9" cy="198.8" r="9.75"/><circle cx="972.6" cy="251.0" r="9.75"/><circle cx="1132.8" cy="187.9" r="9.75"/><circle cx="998.7" cy="241.5" r="9.75"/><circle cx="1004.0" cy="273.4" r="9.75"/><circle cx="1138.4" cy="177.6" r="9.75"/><circle cx="1120.3" cy="209.6" r="9.75"/><circle cx="1027.6" cy="291.2" r="9.75"/>
<circle cx="985.0" cy="214.2" r="9.75"/><circle cx="1049.3" cy="306.3" r="9.75"/><circle cx="949.5" cy="196.5" r="9.75"/><circle cx="1016.4" cy="258.6" r="9.75"/><circle cx="1175.9" cy="261.8" r="9.75"/><circle cx="1154.6" cy="280.0" r="9.75"/><circle cx="1233.2" cy="240.4" r="9.75"/><circle cx="957.9" cy="189.6" r="9.75"/>
<circle cx="1080.1" cy="247.9" r="9.75"/><circle cx="1136.9" cy="219.0" r="9.75"/><circle cx="1322.4" cy="288.4" r="9.75"/><circle cx="974.0" cy="304.7" r="9.75"/><circle cx="974.1" cy="280.4" r="9.75"/><circle cx="1084.5" cy="235.7" r="9.75"/><circle cx="1188.8" cy="285.0" r="9.75"/><circle cx="1112.2" cy="285.3" r="9.75"/>
<circle cx="935.3" cy="223.5" r="9.75"/><circle cx="1105.1" cy="211.3" r="9.75"/><circle cx="996.7" cy="297.6" r="9.75"/><circle cx="1042.3" cy="206.9" r="9.75"/><circle cx="1159.9" cy="253.0" r="9.75"/><circle cx="1108.7" cy="226.8" r="9.75"/><circle cx="1294.5" cy="275.8" r="9.75"/><circle cx="1138.1" cy="281.3" r="9.75"/>
<circle cx="1173.2" cy="292.7" r="9.75"/><circle cx="1064.1" cy="216.1" r="9.75"/><circle cx="1160.2" cy="235.6" r="9.75"/><circle cx="1049.1" cy="229.9" r="9.75"/><circle cx="1081.2" cy="209.7" r="9.75"/><circle cx="1119.6" cy="234.0" r="9.75"/><circle cx="1013.9" cy="244.6" r="9.75"/><circle cx="946.6" cy="300.3" r="9.75"/>
<circle cx="1035.8" cy="298.5" r="9.75"/><circle cx="991.2" cy="304.7" r="9.75"/><circle cx="998.6" cy="231.3" r="9.75"/><circle cx="1027.3" cy="240.4" r="9.75"/><circle cx="1145.8" cy="190.5" r="9.75"/><circle cx="1129.0" cy="201.1" r="9.75"/><circle cx="1019.2" cy="298.0" r="9.75"/><circle cx="928.9" cy="263.0" r="9.75"/>
<circle cx="1119.7" cy="244.8" r="9.75"/><circle cx="947.8" cy="234.1" r="9.75"/><circle cx="998.4" cy="208.5" r="9.75"/><circle cx="1033.3" cy="255.0" r="9.75"/><circle cx="1153.7" cy="301.7" r="9.75"/><circle cx="1072.3" cy="296.4" r="9.75"/><circle cx="987.5" cy="310.2" r="9.75"/><circle cx="1015.6" cy="309.4" r="9.75"/>
<circle cx="1070.7" cy="252.0" r="9.75"/><circle cx="923.1" cy="251.9" r="9.75"/><circle cx="1009.1" cy="221.2" r="9.75"/><circle cx="1005.3" cy="252.8" r="9.75"/><circle cx="997.4" cy="260.7" r="9.75"/><circle cx="977.4" cy="314.1" r="9.75"/><circle cx="1168.3" cy="257.3" r="9.75"/><circle cx="1018.4" cy="207.2" r="9.75"/>
<circle cx="1012.7" cy="267.3" r="9.75"/><circle cx="1103.4" cy="266.3" r="9.75"/><circle cx="1050.4" cy="275.8" r="9.75"/><circle cx="1236.6" cy="249.9" r="9.75"/><circle cx="1173.2" cy="206.9" r="9.75"/><circle cx="1031.0" cy="304.4" r="9.75"/><circle cx="983.0" cy="316.3" r="9.75"/><circle cx="1174.7" cy="272.5" r="9.75"/>
<circle cx="944.3" cy="218.2" r="9.75"/><circle cx="970.0" cy="288.7" r="9.75"/><circle cx="1173.1" cy="219.6" r="9.75"/><circle cx="1026.4" cy="276.9" r="9.75"/><circle cx="978.3" cy="214.4" r="9.75"/><circle cx="925.2" cy="293.4" r="9.75"/><circle cx="1097.5" cy="294.8" r="9.75"/><circle cx="1126.9" cy="237.9" r="9.75"/>
<circle cx="990.5" cy="215.6" r="9.75"/><circle cx="1215.1" cy="290.6" r="9.75"/><circle cx="1000.4" cy="285.3" r="9.75"/><circle cx="1074.9" cy="236.7" r="9.75"/><circle cx="1103.5" cy="232.4" r="9.75"/><circle cx="1137.1" cy="176.3" r="9.75"/><circle cx="1029.3" cy="282.7" r="9.75"/><circle cx="1225.9" cy="235.4" r="9.75"/>
<circle cx="938.4" cy="189.3" r="9.75"/><circle cx="944.8" cy="280.9" r="9.75"/><circle cx="1078.5" cy="216.4" r="9.75"/><circle cx="933.6" cy="304.5" r="9.75"/><circle cx="1013.6" cy="194.7" r="9.75"/><circle cx="1093.2" cy="274.8" r="9.75"/><circle cx="1147.0" cy="247.5" r="9.75"/><circle cx="958.0" cy="265.2" r="9.75"/>
<circle cx="1190.7" cy="275.4" r="9.75"/><circle cx="959.8" cy="218.8" r="9.75"/><circle cx="1237.9" cy="224.3" r="9.75"/><circle cx="1007.5" cy="314.3" r="9.75"/><circle cx="1027.7" cy="298.5" r="9.75"/><circle cx="970.4" cy="243.9" r="9.75"/><circle cx="1167.4" cy="226.7" r="9.75"/><circle cx="986.3" cy="232.7" r="9.75"/>
<circle cx="1102.8" cy="189.9" r="9.75"/><circle cx="989.2" cy="289.5" r="9.75"/><circle cx="1075.9" cy="201.1" r="9.75"/><circle cx="1003.6" cy="291.3" r="9.75"/><circle cx="1056.3" cy="296.4" r="9.75"/><circle cx="1149.7" cy="184.6" r="9.75"/><circle cx="943.2" cy="242.7" r="9.75"/><circle cx="1085.0" cy="282.8" r="9.75"/>
<circle cx="1004.5" cy="204.5" r="9.75"/><circle cx="1097.4" cy="218.2" r="9.75"/><circle cx="1122.6" cy="286.1" r="9.75"/><circle cx="1062.0" cy="268.3" r="9.75"/><circle cx="1122.0" cy="223.4" r="9.75"/><circle cx="1041.5" cy="268.0" r="9.75"/><circle cx="1089.1" cy="199.4" r="9.75"/><circle cx="1082.5" cy="306.6" r="9.75"/>
<circle cx="947.0" cy="190.0" r="9.75"/><circle cx="1018.7" cy="304.7" r="9.75"/><circle cx="933.9" cy="298.8" r="9.75"/><circle cx="1126.8" cy="265.0" r="9.75"/><circle cx="1352.5" cy="247.4" r="9.75"/><circle cx="1151.0" cy="212.3" r="9.75"/><circle cx="948.7" cy="274.2" r="9.75"/><circle cx="930.3" cy="222.7" r="9.75"/>
<circle cx="992.8" cy="246.9" r="9.75"/><circle cx="1110.7" cy="197.1" r="9.75"/><circle cx="1204.5" cy="240.9" r="9.75"/><circle cx="1036.8" cy="261.6" r="9.75"/><circle cx="967.2" cy="195.8" r="9.75"/><circle cx="1143.1" cy="272.4" r="9.75"/><circle cx="924.4" cy="242.5" r="9.75"/><circle cx="1148.1" cy="198.6" r="9.75"/>
<circle cx="1022.5" cy="247.5" r="9.75"/><circle cx="1070.7" cy="244.3" r="9.75"/><circle cx="1033.9" cy="215.7" r="9.75"/><circle cx="984.7" cy="293.6" r="9.75"/><circle cx="990.6" cy="296.5" r="9.75"/><circle cx="955.1" cy="281.6" r="9.75"/><circle cx="1225.9" cy="228.3" r="9.75"/><circle cx="1178.8" cy="296.2" r="9.75"/>
<circle cx="1161.0" cy="229.1" r="9.75"/><circle cx="992.8" cy="209.5" r="9.75"/><circle cx="1119.4" cy="262.1" r="9.75"/><circle cx="1138.3" cy="288.7" r="9.75"/><circle cx="1077.4" cy="273.2" r="9.75"/><circle cx="978.1" cy="205.1" r="9.75"/><circle cx="940.2" cy="273.5" r="9.75"/><circle cx="1007.8" cy="199.6" r="9.75"/>
<circle cx="967.1" cy="305.5" r="9.75"/><circle cx="921.5" cy="232.0" r="9.75"/><circle cx="953.1" cy="307.3" r="9.75"/><circle cx="1169.2" cy="264.9" r="9.75"/><circle cx="1223.4" cy="208.3" r="9.75"/><circle cx="955.4" cy="300.4" r="9.75"/><circle cx="1226.3" cy="250.9" r="9.75"/><circle cx="997.1" cy="290.7" r="9.75"/>
<circle cx="1152.9" cy="252.8" r="9.75"/><circle cx="973.7" cy="269.6" r="9.75"/><circle cx="1156.1" cy="264.2" r="9.75"/><circle cx="1225.1" cy="258.9" r="9.75"/><circle cx="957.0" cy="246.1" r="9.75"/><circle cx="1188.0" cy="235.7" r="9.75"/><circle cx="1005.0" cy="262.7" r="9.75"/><circle cx="1167.3" cy="247.6" r="9.75"/>
<circle cx="966.0" cy="284.0" r="9.75"/><circle cx="934.9" cy="253.4" r="9.75"/><circle cx="1173.7" cy="285.9" r="9.75"/><circle cx="922.0" cy="265.0" r="9.75"/><circle cx="930.5" cy="200.4" r="9.75"/><circle cx="1184.0" cy="247.4" r="9.75"/><circle cx="914.9" cy="280.5" r="9.75"/><circle cx="953.2" cy="203.4" r="9.75"/>
<circle cx="1081.4" cy="310.1" r="9.75"/><circle cx="1126.5" cy="279.2" r="9.75"/><circle cx="1081.5" cy="266.8" r="9.75"/><circle cx="1263.9" cy="282.2" r="9.75"/><circle cx="1009.2" cy="308.9" r="9.75"/><circle cx="977.5" cy="264.7" r="9.75"/><circle cx="1135.2" cy="267.3" r="9.75"/><circle cx="932.2" cy="236.2" r="9.75"/>
<circle cx="1070.6" cy="258.7" r="9.75"/><circle cx="983.7" cy="268.1" r="9.75"/><circle cx="969.2" cy="237.4" r="9.75"/><circle cx="1046.0" cy="299.7" r="9.75"/><circle cx="925.2" cy="193.0" r="9.75"/><circle cx="1034.9" cy="288.4" r="9.75"/><circle cx="1089.1" cy="241.9" r="9.75"/><circle cx="946.7" cy="264.4" r="9.75"/>
<circle cx="1057.1" cy="273.7" r="9.75"/><circle cx="1127.2" cy="211.7" r="9.75"/><circle cx="1113.2" cy="244.7" r="9.75"/><circle cx="1064.4" cy="304.1" r="9.75"/><circle cx="981.2" cy="190.6" r="9.75"/><circle cx="929.4" cy="248.6" r="9.75"/><circle cx="1009.8" cy="274.7" r="9.75"/><circle cx="948.4" cy="259.3" r="9.75"/>
<circle cx="998.9" cy="252.0" r="9.75"/><circle cx="993.3" cy="200.3" r="9.75"/><circle cx="949.1" cy="238.9" r="9.75"/><circle cx="927.2" cy="236.9" r="9.75"/><circle cx="1005.1" cy="238.0" r="9.75"/><circle cx="925.2" cy="257.9" r="9.75"/><circle cx="936.1" cy="218.3" r="9.75"/><circle cx="1001.9" cy="299.6" r="9.75"/>
<circle cx="1114.4" cy="213.3" r="9.75"/><circle cx="1134.1" cy="207.5" r="9.75"/><circle cx="980.4" cy="305.7" r="9.75"/><circle cx="1007.1" cy="244.6" r="9.75"/><circle cx="932.6" cy="211.7" r="9.75"/><circle cx="979.9" cy="220.0" r="9.75"/><circle cx="1109.2" cy="300.3" r="9.75"/><circle cx="1118.3" cy="184.4" r="9.75"/>
<circle cx="1116.0" cy="293.7" r="9.75"/><circle cx="1002.4" cy="188.8" r="9.75"/><circle cx="955.5" cy="273.3" r="9.75"/><circle cx="1205.3" cy="259.4" r="9.75"/><circle cx="1184.6" cy="227.8" r="9.75"/><circle cx="961.7" cy="204.1" r="9.75"/><circle cx="1250.8" cy="233.6" r="9.75"/><circle cx="941.2" cy="232.5" r="9.75"/>
<circle cx="951.2" cy="230.8" r="9.75"/><circle cx="1137.1" cy="296.2" r="9.75"/><circle cx="1019.8" cy="291.5" r="9.75"/><circle cx="935.4" cy="289.0" r="9.75"/><circle cx="1138.6" cy="202.7" r="9.75"/><circle cx="1071.6" cy="215.9" r="9.75"/><circle cx="1128.4" cy="219.0" r="9.75"/><circle cx="1000.7" cy="222.5" r="9.75"/>
<circle cx="929.9" cy="229.5" r="9.75"/><circle cx="996.7" cy="303.9" r="9.75"/><circle cx="1019.2" cy="274.8" r="9.75"/><circle cx="944.7" cy="195.0" r="9.75"/><circle cx="979.4" cy="225.6" r="9.75"/><circle cx="944.8" cy="253.5" r="9.75"/><circle cx="1042.7" cy="210.3" r="9.75"/><circle cx="1079.1" cy="318.5" r="9.75"/>
<circle cx="967.0" cy="314.3" r="9.75"/><circle cx="964.0" cy="211.8" r="9.75"/><circle cx="940.9" cy="267.7" r="9.75"/><circle cx="1117.9" cy="270.5" r="9.75"/><circle cx="976.0" cy="241.6" r="9.75"/><circle cx="1019.0" cy="267.3" r="9.75"/><circle cx="1242.2" cy="229.6" r="9.75"/><circle cx="1049.0" cy="267.3" r="9.75"/>
<circle cx="1222.0" cy="218.1" r="9.75"/><circle cx="1197.9" cy="221.8" r="9.75"/><circle cx="1084.9" cy="255.1" r="9.75"/><circle cx="1103.4" cy="197.0" r="9.75"/><circle cx="1136.3" cy="274.9" r="9.75"/><circle cx="1040.7" cy="292.2" r="9.75"/><circle cx="1191.9" cy="204.7" r="9.75"/><circle cx="1139.3" cy="186.4" r="9.75"/>
<circle cx="1148.7" cy="221.7" r="9.75"/><circle cx="940.7" cy="298.0" r="9.75"/><circle cx="940.1" cy="212.9" r="9.75"/><circle cx="1132.2" cy="181.0" r="9.75"/><circle cx="944.2" cy="209.9" r="9.75"/><circle cx="1269.4" cy="229.2" r="9.75"/><circle cx="944.7" cy="324.0" r="9.75"/><circle cx="1126.8" cy="255.0" r="9.75"/>
<circle cx="1234.3" cy="241.5" r="9.75"/><circle cx="1177.6" cy="280.7" r="9.75"/><circle cx="1305.7" cy="266.9" r="9.75"/><circle cx="950.3" cy="184.6" r="9.75"/><circle cx="1157.9" cy="158.1" r="9.75"/><circle cx="934.6" cy="193.7" r="9.75"/><circle cx="978.0" cy="274.6" r="9.75"/><circle cx="1095.2" cy="232.3" r="9.75"/>
<circle cx="964.2" cy="289.6" r="9.75"/><circle cx="1098.0" cy="306.0" r="9.75"/><circle cx="980.3" cy="297.9" r="9.75"/><circle cx="923.3" cy="280.7" r="9.75"/><circle cx="1220.0" cy="249.0" r="9.75"/><circle cx="950.4" cy="281.4" r="9.75"/><circle cx="923.6" cy="208.1" r="9.75"/><circle cx="1165.7" cy="287.9" r="9.75"/>
<circle cx="1237.6" cy="235.8" r="9.75"/><circle cx="1032.1" cy="246.4" r="9.75"/><circle cx="938.8" cy="285.4" r="9.75"/><circle cx="936.6" cy="270.3" r="9.75"/><circle cx="1044.6" cy="282.1" r="9.75"/><circle cx="1140.3" cy="248.9" r="9.75"/><circle cx="1244.5" cy="236.5" r="9.75"/><circle cx="958.9" cy="257.4" r="9.75"/>
<circle cx="954.0" cy="257.9" r="9.75"/><circle cx="1232.7" cy="228.4" r="9.75"/><circle cx="1040.4" cy="305.0" r="9.75"/><circle cx="1114.5" cy="189.8" r="9.75"/><circle cx="1192.7" cy="268.2" r="9.75"/><circle cx="1095.7" cy="225.7" r="9.75"/><circle cx="1082.8" cy="191.6" r="9.75"/><circle cx="1054.0" cy="288.1" r="9.75"/>
<circle cx="928.2" cy="205.2" r="9.75"/><circle cx="931.2" cy="267.6" r="9.75"/><circle cx="959.9" cy="199.6" r="9.75"/><circle cx="1190.7" cy="254.0" r="9.75"/><circle cx="1070.6" cy="269.7" r="9.75"/><circle cx="952.8" cy="264.0" r="9.75"/><circle cx="1054.2" cy="212.7" r="9.75"/><circle cx="922.7" cy="246.9" r="9.75"/>
<circle cx="1249.9" cy="237.6" r="9.75"/><circle cx="1130.2" cy="272.5" r="9.75"/><circle cx="922.3" cy="231.6" r="9.75"/><circle cx="995.1" cy="224.1" r="9.75"/><circle cx="1046.0" cy="252.9" r="9.75"/><circle cx="1055.1" cy="226.8" r="9.75"/><circle cx="997.0" cy="195.8" r="9.75"/><circle cx="948.6" cy="220.7" r="9.75"/>
<circle cx="940.1" cy="254.5" r="9.75"/><circle cx="1160.9" cy="245.5" r="9.75"/><circle cx="1091.8" cy="260.1" r="9.75"/><circle cx="983.0" cy="202.1" r="9.75"/><circle cx="1120.8" cy="216.2" r="9.75"/><circle cx="962.1" cy="262.1" r="9.75"/><circle cx="1003.3" cy="308.1" r="9.75"/><circle cx="1182.1" cy="205.9" r="9.75"/>
<circle cx="1004.8" cy="226.7" r="9.75"/><circle cx="1190.6" cy="224.1" r="9.75"/><circle cx="1183.9" cy="277.5" r="9.75"/><circle cx="1081.4" cy="299.5" r="9.75"/><circle cx="1107.2" cy="279.6" r="9.75"/><circle cx="1090.6" cy="268.1" r="9.75"/><circle cx="1086.6" cy="292.0" r="9.75"/><circle cx="1137.1" cy="255.9" r="9.75"/>
<circle cx="990.4" cy="262.4" r="9.75"/><circle cx="926.3" cy="214.1" r="9.75"/><circle cx="1175.9" cy="209.3" r="9.75"/><circle cx="1041.7" cy="243.3" r="9.75"/><circle cx="939.3" cy="238.4" r="9.75"/><circle cx="1204.9" cy="225.5" r="9.75"/><circle cx="1089.3" cy="227.4" r="9.75"/><circle cx="1064.1" cy="253.3" r="9.75"/>
<circle cx="1077.2" cy="195.8" r="9.75"/><circle cx="1262.5" cy="231.2" r="9.75"/><circle cx="1219.8" cy="225.0" r="9.75"/><circle cx="1058.3" cy="258.2" r="9.75"/><circle cx="1215.6" cy="258.1" r="9.75"/><circle cx="952.2" cy="191.9" r="9.75"/><circle cx="1026.0" cy="207.1" r="9.75"/><circle cx="1009.0" cy="295.9" r="9.75"/>
<circle cx="953.7" cy="221.4" r="9.75"/><circle cx="1032.1" cy="272.0" r="9.75"/><circle cx="927.8" cy="289.9" r="9.75"/><circle cx="944.2" cy="228.7" r="9.75"/><circle cx="1132.1" cy="251.0" r="9.75"/><circle cx="960.8" cy="194.7" r="9.75"/><circle cx="1241.6" cy="243.2" r="9.75"/><circle cx="1093.9" cy="186.0" r="9.75"/>
<circle cx="973.6" cy="192.5" r="9.75"/><circle cx="1041.9" cy="217.6" r="9.75"/><circle cx="1085.6" cy="221.7" r="9.75"/><circle cx="1194.3" cy="230.1" r="9.75"/><circle cx="1204.9" cy="233.5" r="9.75"/><circle cx="1025.7" cy="233.9" r="9.75"/><circle cx="972.4" cy="199.5" r="9.75"/><circle cx="1093.7" cy="190.1" r="9.75"/>
<circle cx="1167.2" cy="280.5" r="9.75"/><circle cx="1104.7" cy="293.2" r="9.75"/><circle cx="975.4" cy="338.6" r="9.75"/><circle cx="1142.4" cy="262.3" r="9.75"/><circle cx="1086.7" cy="214.6" r="9.75"/><circle cx="989.4" cy="196.1" r="9.75"/><circle cx="941.4" cy="289.9" r="9.75"/><circle cx="1042.8" cy="235.1" r="9.75"/>
<circle cx="1208.1" cy="250.4" r="9.75"/><circle cx="1069.0" cy="209.6" r="9.75"/><circle cx="1152.1" cy="290.4" r="9.75"/><circle cx="988.1" cy="255.0" r="9.75"/><circle cx="1085.4" cy="274.8" r="9.75"/><circle cx="996.2" cy="267.1" r="9.75"/><circle cx="1252.7" cy="220.9" r="9.75"/><circle cx="1100.9" cy="300.4" r="9.75"/>
<circle cx="1282.8" cy="239.0" r="9.75"/><circle cx="967.8" cy="206.6" r="9.75"/><circle cx="1188.6" cy="276.6" r="9.75"/><circle cx="954.8" cy="198.6" r="9.75"/><circle cx="1011.5" cy="228.9" r="9.75"/><circle cx="993.3" cy="256.7" r="9.75"/><circle cx="1149.0" cy="230.3" r="9.75"/><circle cx="1114.1" cy="276.5" r="9.75"/>
<circle cx="1128.4" cy="225.8" r="9.75"/><circle cx="1118.4" cy="200.0" r="9.75"/><circle cx="967.0" cy="248.4" r="9.75"/><circle cx="1031.2" cy="202.7" r="9.75"/><circle cx="934.3" cy="248.4" r="9.75"/><circle cx="961.7" cy="299.2" r="9.75"/><circle cx="1013.8" cy="278.5" r="9.75"/><circle cx="980.9" cy="251.0" r="9.75"/>
<circle cx="1095.6" cy="197.9" r="9.75"/><circle cx="933.3" cy="204.2" r="9.75"/><circle cx="1054.6" cy="263.8" r="9.75"/><circle cx="934.4" cy="263.0" r="9.75"/><circle cx="983.1" cy="208.0" r="9.75"/><circle cx="1173.5" cy="242.2" r="9.75"/><circle cx="1162.9" cy="261.2" r="9.75"/><circle cx="1133.1" cy="293.0" r="9.75"/>
<circle cx="964.2" cy="186.0" r="9.75"/><circle cx="985.0" cy="259.9" r="9.75"/><circle cx="1002.0" cy="198.8" r="9.75"/><circle cx="1183.8" cy="212.8" r="9.75"/><circle cx="1180.9" cy="267.7" r="9.75"/><circle cx="1217.5" cy="240.9" r="9.75"/><circle cx="976.8" cy="184.6" r="9.75"/><circle cx="1292.6" cy="245.4" r="9.75"/>
<circle cx="1130.0" cy="284.7" r="9.75"/><circle cx="1108.9" cy="218.7" r="9.75"/><circle cx="1198.4" cy="238.2" r="9.75"/><circle cx="1011.4" cy="261.8" r="9.75"/><circle cx="979.8" cy="234.6" r="9.75"/><circle cx="1078.6" cy="290.9" r="9.75"/><circle cx="1149.1" cy="275.8" r="9.75"/><circle cx="931.3" cy="294.2" r="9.75"/>
<circle cx="1089.3" cy="208.1" r="9.75"/><circle cx="1048.4" cy="220.1" r="9.75"/><circle cx="957.1" cy="214.9" r="9.75"/><circle cx="1127.2" cy="246.6" r="9.75"/><circle cx="1186.0" cy="294.0" r="9.75"/><circle cx="1103.2" cy="222.5" r="9.75"/><circle cx="1053.5" cy="174.9" r="9.75"/><circle cx="927.7" cy="282.8" r="9.75"/>
<circle cx="1211.4" cy="223.2" r="9.75"/><circle cx="958.5" cy="295.1" r="9.75"/><circle cx="1004.1" cy="193.7" r="9.75"/><circle cx="1167.9" cy="273.7" r="9.75"/><circle cx="1146.6" cy="282.1" r="9.75"/><circle cx="1112.4" cy="203.6" r="9.75"/><circle cx="1231.6" cy="221.9" r="9.75"/><circle cx="1110.6" cy="184.6" r="9.75"/>
<circle cx="953.1" cy="211.5" r="9.75"/><circle cx="934.8" cy="242.7" r="9.75"/><circle cx="1017.5" cy="200.2" r="9.75"/><circle cx="937.2" cy="208.2" r="9.75"/><circle cx="1064.1" cy="281.0" r="9.75"/><circle cx="1104.0" cy="241.5" r="9.75"/><circle cx="978.6" cy="291.5" r="9.75"/><circle cx="1106.5" cy="272.2" r="9.75"/>
<circle cx="962.3" cy="271.1" r="9.75"/><circle cx="1025.2" cy="270.1" r="9.75"/><circle cx="925.0" cy="200.5" r="9.75"/><circle cx="951.9" cy="269.1" r="9.75"/><circle cx="1198.6" cy="278.7" r="9.75"/><circle cx="1174.2" cy="249.7" r="9.75"/><circle cx="1048.6" cy="238.1" r="9.75"/><circle cx="1096.8" cy="209.4" r="9.75"/>
<circle cx="937.6" cy="294.1" r="9.75"/><circle cx="1286.2" cy="289.7" r="9.75"/><circle cx="938.2" cy="279.1" r="9.75"/><circle cx="1149.0" cy="265.0" r="9.75"/><circle cx="1026.9" cy="226.3" r="9.75"/><circle cx="1219.0" cy="257.0" r="9.75"/><circle cx="978.4" cy="198.3" r="9.75"/><circle cx="1202.5" cy="220.9" r="9.75"/>
<circle cx="1153.5" cy="245.4" r="9.75"/><circle cx="943.0" cy="187.3" r="9.75"/><circle cx="933.7" cy="276.3" r="9.75"/><circle cx="1015.6" cy="251.6" r="9.75"/><circle cx="955.4" cy="252.7" r="9.75"/><circle cx="1180.8" cy="288.0" r="9.75"/><circle cx="940.2" cy="197.9" r="9.75"/><circle cx="939.1" cy="262.0" r="9.75"/>
<circle cx="1060.6" cy="237.2" r="9.75"/><circle cx="1046.9" cy="288.3" r="9.75"/><circle cx="1053.6" cy="253.2" r="9.75"/><circle cx="996.3" cy="310.1" r="9.75"/><circle cx="1017.2" cy="191.6" r="9.75"/><circle cx="1188.9" cy="207.9" r="9.75"/><circle cx="1062.8" cy="297.7" r="9.75"/><circle cx="925.5" cy="276.4" r="9.75"/>
<circle cx="925.2" cy="225.2" r="9.75"/><circle cx="974.5" cy="258.5" r="9.75"/><circle cx="1034.2" cy="223.5" r="9.75"/><circle cx="944.7" cy="331.0" r="9.75"/><circle cx="1215.1" cy="301.2" r="9.75"/><circle cx="956.1" cy="207.7" r="9.75"/><circle cx="1092.0" cy="252.1" r="9.75"/><circle cx="1018.2" cy="232.7" r="9.75"/>
<circle cx="924.1" cy="219.0" r="9.75"/><circle cx="1054.2" cy="281.3" r="9.75"/><circle cx="928.9" cy="194.3" r="9.75"/><circle cx="1083.7" cy="203.2" r="9.75"/><circle cx="1179.1" cy="254.2" r="9.75"/><circle cx="1242.1" cy="222.3" r="9.75"/><circle cx="1193.4" cy="245.6" r="9.75"/><circle cx="1162.4" cy="214.2" r="9.75"/>
<circle cx="944.0" cy="237.1" r="9.75"/><circle cx="1125.1" cy="301.7" r="9.75"/><circle cx="1227.6" cy="243.8" r="9.75"/><circle cx="1090.8" cy="297.6" r="9.75"/><circle cx="994.2" cy="285.8" r="9.75"/><circle cx="1143.4" cy="298.3" r="9.75"/><circle cx="1136.2" cy="233.7" r="9.75"/><circle cx="1015.4" cy="287.0" r="9.75"/>
<circle cx="1021.5" cy="284.2" r="9.75"/><circle cx="1222.8" cy="218.8" r="9.75"/><circle cx="1180.2" cy="240.3" r="9.75"/><circle cx="1014.7" cy="220.3" r="9.75"/><circle cx="1011.0" cy="255.3" r="9.75"/><circle cx="1008.6" cy="285.3" r="9.75"/><circle cx="954.1" cy="236.7" r="9.75"/><circle cx="921.0" cy="277.0" r="9.75"/>
<circle cx="1023.7" cy="217.8" r="9.75"/><circle cx="974.8" cy="232.3" r="9.75"/><circle cx="1151.1" cy="236.9" r="9.75"/><circle cx="1023.9" cy="306.9" r="9.75"/><circle cx="1301.5" cy="287.8" r="9.75"/><circle cx="1059.9" cy="247.5" r="9.75"/><circle cx="1176.4" cy="227.4" r="9.75"/><circle cx="1075.1" cy="263.5" r="9.75"/>
<circle cx="1004.9" cy="232.4" r="9.75"/><circle cx="1094.8" cy="303.5" r="9.75"/><circle cx="945.3" cy="286.5" r="9.75"/><circle cx="1193.0" cy="216.0" r="9.75"/><circle cx="959.2" cy="279.2" r="9.75"/><circle cx="989.7" cy="268.0" r="9.75"/><circle cx="1150.1" cy="299.1" r="9.75"/><circle cx="984.5" cy="246.0" r="9.75"/>
<circle cx="953.5" cy="295.3" r="9.75"/><circle cx="997.6" cy="278.9" r="9.75"/><circle cx="1103.1" cy="250.4" r="9.75"/><circle cx="1065.3" cy="274.3" r="9.75"/><circle cx="983.1" cy="240.4" r="9.75"/><circle cx="1003.8" cy="280.3" r="9.75"/><circle cx="1158.8" cy="272.4" r="9.75"/><circle cx="939.0" cy="203.2" r="9.75"/>
<circle cx="1003.5" cy="211.8" r="9.75"/><circle cx="1101.8" cy="286.9" r="9.75"/><circle cx="1009.4" cy="346.9" r="9.75"/><circle cx="1034.7" cy="208.5" r="9.75"/><circle cx="950.3" cy="290.5" r="9.75"/><circle cx="957.8" cy="225.9" r="9.75"/><circle cx="922.0" cy="210.0" r="9.75"/><circle cx="966.3" cy="265.8" r="9.75"/>
<circle cx="1031.2" cy="310.1" r="9.75"/><circle cx="973.8" cy="296.7" r="9.75"/><circle cx="921.5" cy="249.0" r="9.75"/><circle cx="1124.8" cy="182.4" r="9.75"/><circle cx="985.4" cy="284.1" r="9.75"/><circle cx="1124.3" cy="298.2" r="9.75"/><circle cx="955.7" cy="290.7" r="9.75"/><circle cx="966.3" cy="189.0" r="9.75"/>
<circle cx="1038.9" cy="251.1" r="9.75"/><circle cx="1055.9" cy="306.3" r="9.75"/><circle cx="1149.7" cy="307.3" r="9.75"/><circle cx="1115.6" cy="221.9" r="9.75"/><circle cx="1145.1" cy="289.7" r="9.75"/><circle cx="948.6" cy="248.8" r="9.75"/><circle cx="1109.7" cy="254.5" r="9.75"/><circle cx="923.0" cy="265.4" r="9.75"/>
<circle cx="954.0" cy="241.9" r="9.75"/><circle cx="986.9" cy="222.4" r="9.75"/><circle cx="1097.2" cy="268.6" r="9.75"/><circle cx="1157.9" cy="206.1" r="9.75"/><circle cx="1150.3" cy="203.4" r="9.75"/><circle cx="946.1" cy="293.3" r="9.75"/><circle cx="1143.0" cy="207.7" r="9.75"/><circle cx="1142.9" cy="216.6" r="9.75"/>
<circle cx="966.2" cy="227.6" r="9.75"/><circle cx="1143.1" cy="234.0" r="9.75"/><circle cx="945.6" cy="200.7" r="9.75"/><circle cx="1062.3" cy="209.8" r="9.75"/><circle cx="1108.2" cy="260.9" r="9.75"/><circle cx="1078.5" cy="223.2" r="9.75"/><circle cx="1232.1" cy="257.5" r="9.75"/><circle cx="1013.8" cy="237.4" r="9.75"/>
<circle cx="1249.0" cy="225.0" r="9.75"/><circle cx="932.7" cy="257.7" r="9.75"/><circle cx="1183.0" cy="220.8" r="9.75"/><circle cx="1016.6" cy="214.4" r="9.75"/><circle cx="1019.8" cy="223.3" r="9.75"/><circle cx="1100.8" cy="276.0" r="9.75"/><circle cx="1252.7" cy="287.2" r="9.75"/><circle cx="1060.4" cy="310.1" r="9.75"/>
<circle cx="1039.3" cy="229.1" r="9.75"/><circle cx="1116.8" cy="253.4" r="9.75"/><circle cx="1060.5" cy="222.7" r="9.75"/><circle cx="1202.5" cy="262.7" r="9.75"/><circle cx="1169.4" cy="235.7" r="9.75"/><circle cx="1177.5" cy="234.3" r="9.75"/><circle cx="1010.3" cy="214.3" r="9.75"/><circle cx="1073.9" cy="228.3" r="9.75"/>
<circle cx="1063.6" cy="291.1" r="9.75"/><circle cx="1181.6" cy="198.6" r="9.75"/><circle cx="968.8" cy="256.1" r="9.75"/><circle cx="1036.7" cy="238.2" r="9.75"/><circle cx="947.5" cy="205.3" r="9.75"/><circle cx="1023.6" cy="259.8" r="9.75"/><circle cx="1127.9" cy="194.0" r="9.75"/><circle cx="1018.5" cy="241.2" r="9.75"/>
<circle cx="1075.9" cy="283.8" r="9.75"/><circle cx="978.6" cy="285.8" r="9.75"/><circle cx="1187.4" cy="261.2" r="9.75"/><circle cx="990.5" cy="237.5" r="9.75"/><circle cx="1100.7" cy="203.5" r="9.75"/><circle cx="1141.3" cy="195.6" r="9.75"/><circle cx="966.4" cy="216.9" r="9.75"/><circle cx="949.4" cy="215.7" r="9.75"/>
<circle cx="973.1" cy="208.7" r="9.75"/><circle cx="1045.6" cy="260.5" r="9.75"/><circle cx="1032.2" cy="231.0" r="9.75"/><circle cx="930.3" cy="217.1" r="9.75"/><circle cx="1117.6" cy="179.0" r="9.75"/><circle cx="935.3" cy="230.3" r="9.75"/><circle cx="1067.8" cy="223.3" r="9.75"/><circle cx="1130.0" cy="318.5" r="9.75"/>
<circle cx="1097.6" cy="244.3" r="9.75"/><circle cx="1133.1" cy="242.2" r="9.75"/><circle cx="1071.7" cy="277.3" r="9.75"/><circle cx="1054.4" cy="234.7" r="9.75"/><circle cx="972.3" cy="310.7" r="9.75"/><circle cx="1082.2" cy="229.4" r="9.75"/>
</g>
<text font-size="35.3" x="881.8" y="301.5" text-anchor="middle" textLength="16.2" lengthAdjust="spacingAndGlyphs">0</text>
<text font-size="35.3" x="1011.4" y="301.5" text-anchor="middle" textLength="32.5" lengthAdjust="spacingAndGlyphs" style="stroke:none;fill-opacity:0.8">20</text>
<text font-size="35.3" x="1141.0" y="301.5" text-anchor="middle" textLength="32.5" lengthAdjust="spacingAndGlyphs" style="stroke:none;fill-opacity:0.8">40</text>
<text font-size="35.3" x="1270.7" y="301.5" text-anchor="middle" textLength="32.5" lengthAdjust="spacingAndGlyphs">60</text>
<text font-size="35.3" x="1400.3" y="301.5" text-anchor="middle" textLength="32.5" lengthAdjust="spacingAndGlyphs">80</text>
</g>
<g>
<path d="M255.75 630.1V949.3M385.50 630.1V949.3M515.25 630.1V949.3" stroke="#d9d9d9" stroke-width="3.6" fill="none"/>
<path d="M128.0 709.17H643.0M128.0 870.33H643.0" stroke="#d9d9d9" stroke-width="3.5" fill="none"/>
<path d="M124.0 627.0H128.0V952.7H124.0ZM643.0 627.0H647.0V952.7H643.0ZM124.0 627.0H647.0V630.1H124.0ZM124.0 949.3H647.0V952.7H124.0ZM124.0 788.0H647.0V792.0H124.0Z" fill="#000"/>
<text x="326.0" y="572.9" text-anchor="middle" textLength="255.5" lengthAdjust="spacingAndGlyphs">RF for Test Data</text>
<text font-size="35.3" x="97.0" y="639.7" text-anchor="end" textLength="32.5" lengthAdjust="spacingAndGlyphs">10</text>
<text font-size="35.3" x="97.0" y="720.3" text-anchor="end" textLength="16.2" lengthAdjust="spacingAndGlyphs">5</text>
<text font-size="35.3" x="97.0" y="800.9" text-anchor="end" textLength="16.2" lengthAdjust="spacingAndGlyphs">0</text>
<text font-size="35.3" x="97.0" y="882.6" text-anchor="end" textLength="29.6" lengthAdjust="spacingAndGlyphs"><tspan letter-spacing="2.8">-</tspan>5</text>
<text font-size="35.3" x="97.0" y="961.1" text-anchor="end" textLength="45.9" lengthAdjust="spacingAndGlyphs"><tspan letter-spacing="2.8">-</tspan>10</text>
<text x="385.5" y="992.9" text-anchor="middle" textLength="253.5" lengthAdjust="spacingAndGlyphs">Predicted <tspan font-style="italic">d</tspan> (cm)</text>
<text transform="translate(32.2 790.9) rotate(-90) scale(1 1.07)" text-anchor="middle" textLength="228.0" lengthAdjust="spacingAndGlyphs">Residuals (cm)</text>
<g fill="#a6a6a6" stroke="#000" stroke-width="3.3">
<circle cx="337.7" cy="838.7" r="9.75"/><circle cx="504.7" cy="935.7" r="9.75"/><circle cx="262.3" cy="735.2" r="9.75"/><circle cx="171.6" cy="748.3" r="9.75"/><circle cx="263.8" cy="725.3" r="9.75"/><circle cx="358.4" cy="832.0" r="9.75"/><circle cx="408.1" cy="788.2" r="9.75"/><circle cx="356.5" cy="816.7" r="9.75"/>
<circle cx="324.1" cy="831.2" r="9.75"/><circle cx="251.5" cy="794.6" r="9.75"/><circle cx="373.8" cy="772.0" r="9.75"/><circle cx="381.6" cy="842.6" r="9.75"/><circle cx="359.3" cy="723.2" r="9.75"/><circle cx="290.2" cy="806.1" r="9.75"/><circle cx="393.3" cy="814.9" r="9.75"/><circle cx="324.5" cy="844.8" r="9.75"/>
<circle cx="415.0" cy="814.8" r="9.75"/><circle cx="222.5" cy="781.5" r="9.75"/><circle cx="258.5" cy="813.8" r="9.75"/><circle cx="384.9" cy="818.5" r="9.75"/><circle cx="194.5" cy="776.9" r="9.75"/><circle cx="260.3" cy="789.6" r="9.75"/><circle cx="350.9" cy="825.6" r="9.75"/><circle cx="262.3" cy="773.9" r="9.75"/>
<circle cx="218.7" cy="842.4" r="9.75"/><circle cx="231.6" cy="733.0" r="9.75"/><circle cx="290.5" cy="791.2" r="9.75"/><circle cx="357.6" cy="786.7" r="9.75"/><circle cx="329.7" cy="825.3" r="9.75"/><circle cx="339.1" cy="827.4" r="9.75"/><circle cx="256.1" cy="830.7" r="9.75"/><circle cx="231.5" cy="721.8" r="9.75"/>
<circle cx="264.5" cy="826.4" r="9.75"/><circle cx="412.6" cy="828.2" r="9.75"/><circle cx="234.1" cy="784.0" r="9.75"/><circle cx="230.1" cy="832.2" r="9.75"/><circle cx="416.3" cy="779.0" r="9.75"/><circle cx="309.7" cy="788.1" r="9.75"/><circle cx="368.2" cy="749.7" r="9.75"/><circle cx="426.6" cy="878.8" r="9.75"/>
<circle cx="193.3" cy="799.0" r="9.75"/><circle cx="301.5" cy="810.8" r="9.75"/><circle cx="402.3" cy="783.2" r="9.75"/><circle cx="298.3" cy="800.7" r="9.75"/><circle cx="274.0" cy="770.7" r="9.75"/><circle cx="248.6" cy="835.6" r="9.75"/><circle cx="340.1" cy="792.7" r="9.75"/><circle cx="272.3" cy="835.9" r="9.75"/>
<circle cx="420.6" cy="789.9" r="9.75"/><circle cx="391.2" cy="851.5" r="9.75"/><circle cx="227.2" cy="820.1" r="9.75"/><circle cx="303.0" cy="837.5" r="9.75"/><circle cx="215.0" cy="762.9" r="9.75"/><circle cx="206.7" cy="765.5" r="9.75"/><circle cx="295.7" cy="868.2" r="9.75"/><circle cx="284.5" cy="734.4" r="9.75"/>
<circle cx="248.7" cy="821.9" r="9.75"/><circle cx="186.1" cy="802.6" r="9.75"/><circle cx="212.5" cy="752.1" r="9.75"/><circle cx="283.1" cy="840.7" r="9.75"/><circle cx="393.9" cy="759.5" r="9.75"/><circle cx="244.0" cy="789.3" r="9.75"/><circle cx="392.7" cy="840.2" r="9.75"/><circle cx="370.3" cy="808.1" r="9.75"/>
<circle cx="344.9" cy="816.3" r="9.75"/><circle cx="205.8" cy="741.3" r="9.75"/><circle cx="254.2" cy="780.2" r="9.75"/><circle cx="406.8" cy="778.8" r="9.75"/><circle cx="272.0" cy="724.1" r="9.75"/><circle cx="321.1" cy="778.3" r="9.75"/><circle cx="382.5" cy="783.1" r="9.75"/><circle cx="421.8" cy="730.8" r="9.75"/>
<circle cx="360.1" cy="794.4" r="9.75"/><circle cx="307.6" cy="800.0" r="9.75"/><circle cx="270.0" cy="819.7" r="9.75"/><circle cx="262.8" cy="706.5" r="9.75"/><circle cx="243.7" cy="804.5" r="9.75"/><circle cx="231.0" cy="841.8" r="9.75"/><circle cx="223.5" cy="760.9" r="9.75"/><circle cx="390.3" cy="772.5" r="9.75"/>
<circle cx="284.8" cy="749.2" r="9.75"/><circle cx="424.3" cy="821.4" r="9.75"/><circle cx="389.8" cy="776.2" r="9.75"/><circle cx="301.3" cy="760.9" r="9.75"/><circle cx="369.9" cy="791.9" r="9.75"/><circle cx="319.4" cy="776.2" r="9.75"/><circle cx="389.0" cy="788.9" r="9.75"/><circle cx="478.2" cy="847.3" r="9.75"/>
<circle cx="312.6" cy="779.3" r="9.75"/><circle cx="382.8" cy="735.8" r="9.75"/><circle cx="403.5" cy="828.4" r="9.75"/><circle cx="184.1" cy="731.6" r="9.75"/><circle cx="380.7" cy="734.4" r="9.75"/><circle cx="349.4" cy="787.4" r="9.75"/><circle cx="252.8" cy="705.0" r="9.75"/><circle cx="286.2" cy="821.8" r="9.75"/>
<circle cx="365.7" cy="801.5" r="9.75"/><circle cx="327.8" cy="871.0" r="9.75"/><circle cx="303.4" cy="828.6" r="9.75"/><circle cx="262.5" cy="845.5" r="9.75"/><circle cx="203.7" cy="861.3" r="9.75"/><circle cx="188.0" cy="746.8" r="9.75"/><circle cx="262.4" cy="762.5" r="9.75"/><circle cx="282.4" cy="771.9" r="9.75"/>
<circle cx="187.5" cy="715.4" r="9.75"/><circle cx="426.0" cy="797.9" r="9.75"/><circle cx="174.4" cy="783.2" r="9.75"/><circle cx="329.2" cy="774.6" r="9.75"/><circle cx="190.7" cy="785.4" r="9.75"/><circle cx="401.5" cy="817.1" r="9.75"/><circle cx="200.2" cy="792.9" r="9.75"/><circle cx="364.7" cy="782.8" r="9.75"/>
<circle cx="351.5" cy="809.8" r="9.75"/><circle cx="225.9" cy="802.3" r="9.75"/><circle cx="280.2" cy="779.6" r="9.75"/><circle cx="430.2" cy="823.6" r="9.75"/><circle cx="268.8" cy="781.5" r="9.75"/><circle cx="288.0" cy="850.1" r="9.75"/><circle cx="391.9" cy="868.2" r="9.75"/><circle cx="290.1" cy="755.4" r="9.75"/>
<circle cx="310.7" cy="839.9" r="9.75"/><circle cx="299.9" cy="789.8" r="9.75"/><circle cx="256.3" cy="839.1" r="9.75"/><circle cx="490.7" cy="904.5" r="9.75"/><circle cx="420.8" cy="828.6" r="9.75"/><circle cx="211.8" cy="800.9" r="9.75"/><circle cx="285.4" cy="829.9" r="9.75"/><circle cx="252.9" cy="729.6" r="9.75"/>
<circle cx="391.5" cy="764.4" r="9.75"/><circle cx="269.2" cy="811.3" r="9.75"/><circle cx="246.0" cy="697.3" r="9.75"/><circle cx="320.6" cy="816.2" r="9.75"/><circle cx="373.6" cy="820.0" r="9.75"/><circle cx="220.9" cy="811.1" r="9.75"/><circle cx="374.2" cy="837.4" r="9.75"/><circle cx="391.9" cy="885.0" r="9.75"/>
<circle cx="306.3" cy="761.0" r="9.75"/><circle cx="398.7" cy="779.1" r="9.75"/><circle cx="176.4" cy="748.0" r="9.75"/><circle cx="275.1" cy="827.4" r="9.75"/><circle cx="471.2" cy="832.8" r="9.75"/><circle cx="198.1" cy="813.0" r="9.75"/><circle cx="272.3" cy="734.6" r="9.75"/><circle cx="349.2" cy="732.4" r="9.75"/>
<circle cx="318.0" cy="796.8" r="9.75"/><circle cx="311.9" cy="809.5" r="9.75"/><circle cx="232.9" cy="850.1" r="9.75"/><circle cx="407.9" cy="772.0" r="9.75"/><circle cx="207.6" cy="815.2" r="9.75"/><circle cx="359.4" cy="806.7" r="9.75"/><circle cx="494.3" cy="853.7" r="9.75"/><circle cx="204.0" cy="851.4" r="9.75"/>
<circle cx="270.4" cy="763.1" r="9.75"/><circle cx="319.6" cy="787.0" r="9.75"/><circle cx="233.3" cy="813.3" r="9.75"/><circle cx="433.0" cy="863.5" r="9.75"/><circle cx="293.1" cy="813.6" r="9.75"/><circle cx="381.1" cy="809.5" r="9.75"/><circle cx="199.1" cy="821.5" r="9.75"/><circle cx="214.0" cy="776.0" r="9.75"/>
<circle cx="234.0" cy="742.9" r="9.75"/><circle cx="297.3" cy="763.3" r="9.75"/><circle cx="331.8" cy="849.4" r="9.75"/><circle cx="407.8" cy="797.7" r="9.75"/><circle cx="209.6" cy="845.0" r="9.75"/><circle cx="281.6" cy="761.2" r="9.75"/><circle cx="313.8" cy="748.3" r="9.75"/><circle cx="361.1" cy="825.5" r="9.75"/>
<circle cx="292.2" cy="779.9" r="9.75"/><circle cx="392.0" cy="885.5" r="9.75"/><circle cx="216.7" cy="825.8" r="9.75"/><circle cx="344.5" cy="844.5" r="9.75"/><circle cx="180.6" cy="765.0" r="9.75"/><circle cx="259.9" cy="801.9" r="9.75"/><circle cx="297.9" cy="843.1" r="9.75"/><circle cx="382.7" cy="800.5" r="9.75"/>
<circle cx="211.5" cy="835.2" r="9.75"/><circle cx="284.5" cy="813.7" r="9.75"/><circle cx="406.5" cy="720.4" r="9.75"/><circle cx="224.0" cy="791.0" r="9.75"/><circle cx="275.7" cy="746.0" r="9.75"/><circle cx="196.5" cy="744.7" r="9.75"/><circle cx="300.3" cy="779.2" r="9.75"/><circle cx="390.5" cy="850.0" r="9.75"/>
<circle cx="242.7" cy="733.0" r="9.75"/><circle cx="180.0" cy="769.2" r="9.75"/><circle cx="378.4" cy="792.8" r="9.75"/><circle cx="274.8" cy="843.1" r="9.75"/><circle cx="269.2" cy="872.4" r="9.75"/><circle cx="210.6" cy="726.0" r="9.75"/><circle cx="229.4" cy="754.7" r="9.75"/><circle cx="426.0" cy="832.8" r="9.75"/>
<circle cx="221.0" cy="833.1" r="9.75"/><circle cx="254.4" cy="771.9" r="9.75"/><circle cx="221.8" cy="770.7" r="9.75"/><circle cx="451.1" cy="775.6" r="9.75"/><circle cx="267.0" cy="744.8" r="9.75"/><circle cx="323.5" cy="806.2" r="9.75"/><circle cx="336.7" cy="818.1" r="9.75"/><circle cx="354.2" cy="783.2" r="9.75"/>
<circle cx="415.4" cy="782.7" r="9.75"/><circle cx="204.1" cy="829.4" r="9.75"/><circle cx="195.4" cy="734.2" r="9.75"/><circle cx="393.2" cy="823.4" r="9.75"/><circle cx="391.9" cy="759.5" r="9.75"/><circle cx="437.7" cy="731.6" r="9.75"/><circle cx="399.4" cy="808.4" r="9.75"/><circle cx="276.1" cy="755.0" r="9.75"/>
<circle cx="308.6" cy="817.3" r="9.75"/><circle cx="190.7" cy="763.8" r="9.75"/><circle cx="181.9" cy="786.0" r="9.75"/><circle cx="375.4" cy="828.5" r="9.75"/><circle cx="264.1" cy="835.1" r="9.75"/><circle cx="329.7" cy="765.1" r="9.75"/><circle cx="259.4" cy="691.2" r="9.75"/><circle cx="281.2" cy="736.0" r="9.75"/>
<circle cx="294.2" cy="833.0" r="9.75"/><circle cx="381.1" cy="770.6" r="9.75"/><circle cx="269.4" cy="802.5" r="9.75"/><circle cx="463.7" cy="754.7" r="9.75"/><circle cx="392.0" cy="868.2" r="9.75"/><circle cx="340.3" cy="876.6" r="9.75"/><circle cx="308.7" cy="769.8" r="9.75"/><circle cx="314.3" cy="764.0" r="9.75"/>
<circle cx="450.6" cy="722.7" r="9.75"/><circle cx="268.6" cy="794.1" r="9.75"/><circle cx="235.7" cy="804.0" r="9.75"/><circle cx="205.3" cy="730.5" r="9.75"/><circle cx="219.9" cy="739.1" r="9.75"/><circle cx="382.6" cy="833.7" r="9.75"/><circle cx="296.5" cy="824.2" r="9.75"/><circle cx="422.9" cy="805.7" r="9.75"/>
<circle cx="228.8" cy="912.9" r="9.75"/><circle cx="398.9" cy="707.9" r="9.75"/><circle cx="280.4" cy="790.0" r="9.75"/><circle cx="239.7" cy="731.6" r="9.75"/><circle cx="237.2" cy="796.1" r="9.75"/><circle cx="248.3" cy="855.7" r="9.75"/><circle cx="246.8" cy="724.1" r="9.75"/><circle cx="238.5" cy="820.8" r="9.75"/>
<circle cx="313.8" cy="850.1" r="9.75"/><circle cx="415.7" cy="707.0" r="9.75"/><circle cx="195.3" cy="819.4" r="9.75"/><circle cx="224.1" cy="729.7" r="9.75"/><circle cx="372.3" cy="778.4" r="9.75"/><circle cx="311.5" cy="830.0" r="9.75"/><circle cx="335.3" cy="808.6" r="9.75"/><circle cx="204.3" cy="785.9" r="9.75"/>
<circle cx="254.5" cy="737.8" r="9.75"/><circle cx="329.0" cy="814.8" r="9.75"/><circle cx="347.8" cy="833.3" r="9.75"/><circle cx="242.1" cy="781.1" r="9.75"/><circle cx="214.3" cy="852.9" r="9.75"/><circle cx="257.1" cy="697.8" r="9.75"/><circle cx="317.0" cy="823.9" r="9.75"/><circle cx="246.2" cy="736.4" r="9.75"/>
<circle cx="244.1" cy="745.1" r="9.75"/><circle cx="407.9" cy="853.5" r="9.75"/><circle cx="237.9" cy="837.6" r="9.75"/><circle cx="394.0" cy="801.9" r="9.75"/><circle cx="282.2" cy="801.7" r="9.75"/><circle cx="221.8" cy="724.6" r="9.75"/><circle cx="249.2" cy="811.2" r="9.75"/><circle cx="348.1" cy="890.5" r="9.75"/>
<circle cx="250.4" cy="755.7" r="9.75"/><circle cx="243.1" cy="828.3" r="9.75"/><circle cx="181.7" cy="776.6" r="9.75"/><circle cx="248.2" cy="849.9" r="9.75"/><circle cx="260.8" cy="710.8" r="9.75"/><circle cx="215.8" cy="793.2" r="9.75"/><circle cx="305.4" cy="891.1" r="9.75"/><circle cx="406.5" cy="832.0" r="9.75"/>
<circle cx="193.3" cy="753.5" r="9.75"/><circle cx="200.9" cy="740.0" r="9.75"/><circle cx="251.3" cy="717.3" r="9.75"/><circle cx="203.9" cy="776.4" r="9.75"/><circle cx="373.6" cy="799.5" r="9.75"/><circle cx="481.2" cy="775.6" r="9.75"/><circle cx="232.1" cy="775.8" r="9.75"/><circle cx="212.5" cy="735.3" r="9.75"/>
<circle cx="296.1" cy="842.5" r="9.75"/><circle cx="407.8" cy="809.2" r="9.75"/><circle cx="246.4" cy="770.3" r="9.75"/><circle cx="267.5" cy="755.7" r="9.75"/><circle cx="396.0" cy="793.6" r="9.75"/><circle cx="201.4" cy="841.9" r="9.75"/><circle cx="415.8" cy="800.3" r="9.75"/><circle cx="292.4" cy="771.7" r="9.75"/>
<circle cx="186.5" cy="793.3" r="9.75"/><circle cx="469.2" cy="790.7" r="9.75"/><circle cx="332.6" cy="800.5" r="9.75"/><circle cx="433.0" cy="804.1" r="9.75"/><circle cx="391.8" cy="831.8" r="9.75"/><circle cx="221.9" cy="747.6" r="9.75"/><circle cx="229.5" cy="766.7" r="9.75"/><circle cx="366.6" cy="833.4" r="9.75"/>
<circle cx="246.9" cy="719.0" r="9.75"/><circle cx="316.1" cy="847.1" r="9.75"/><circle cx="293.5" cy="745.5" r="9.75"/><circle cx="327.9" cy="785.8" r="9.75"/><circle cx="180.0" cy="801.3" r="9.75"/><circle cx="389.8" cy="819.4" r="9.75"/><circle cx="198.7" cy="805.0" r="9.75"/><circle cx="334.7" cy="783.2" r="9.75"/>
<circle cx="451.7" cy="796.6" r="9.75"/><circle cx="400.9" cy="707.0" r="9.75"/><circle cx="454.7" cy="806.9" r="9.75"/><circle cx="256.0" cy="748.4" r="9.75"/><circle cx="185.0" cy="737.9" r="9.75"/><circle cx="253.8" cy="763.5" r="9.75"/><circle cx="390.5" cy="730.2" r="9.75"/><circle cx="348.1" cy="801.3" r="9.75"/>
<circle cx="319.2" cy="837.6" r="9.75"/><circle cx="185.2" cy="755.5" r="9.75"/><circle cx="365.1" cy="816.0" r="9.75"/><circle cx="373.2" cy="787.4" r="9.75"/><circle cx="288.7" cy="861.3" r="9.75"/><circle cx="195.9" cy="846.8" r="9.75"/><circle cx="237.5" cy="769.1" r="9.75"/><circle cx="391.2" cy="731.6" r="9.75"/>
<circle cx="375.2" cy="844.5" r="9.75"/><circle cx="326.9" cy="794.7" r="9.75"/><circle cx="407.9" cy="811.0" r="9.75"/><circle cx="212.7" cy="784.4" r="9.75"/><circle cx="199.4" cy="768.9" r="9.75"/><circle cx="201.9" cy="757.9" r="9.75"/><circle cx="429.6" cy="791.5" r="9.75"/><circle cx="328.6" cy="857.1" r="9.75"/>
<circle cx="192.3" cy="725.9" r="9.75"/><circle cx="238.6" cy="846.1" r="9.75"/><circle cx="406.5" cy="794.3" r="9.75"/><circle cx="241.4" cy="756.8" r="9.75"/>
</g>
<text font-size="35.3" x="126.3" y="841.5" text-anchor="middle" textLength="16.2" lengthAdjust="spacingAndGlyphs">0</text>
<text font-size="35.3" x="256.1" y="841.5" text-anchor="middle" textLength="32.5" lengthAdjust="spacingAndGlyphs" style="stroke:none;fill-opacity:0.8">20</text>
<text font-size="35.3" x="385.8" y="841.5" text-anchor="middle" textLength="32.5" lengthAdjust="spacingAndGlyphs" style="stroke:none;fill-opacity:0.8">40</text>
<text font-size="35.3" x="515.5" y="841.5" text-anchor="middle" textLength="32.5" lengthAdjust="spacingAndGlyphs">60</text>
<text font-size="35.3" x="645.3" y="841.5" text-anchor="middle" textLength="32.5" lengthAdjust="spacingAndGlyphs">80</text>
</g>
<g>
<path d="M1011.12 630.1V949.3M1140.75 630.1V949.3M1270.38 630.1V949.3" stroke="#d9d9d9" stroke-width="3.4" fill="none"/>
<path d="M883.1 709.17H1398.2M883.1 870.33H1398.2" stroke="#d9d9d9" stroke-width="3.5" fill="none"/>
<path d="M880.0 627.0H883.1V952.7H880.0ZM1398.2 627.0H1401.8V952.7H1398.2ZM880.0 627.0H1401.8V630.1H880.0ZM880.0 949.3H1401.8V952.7H880.0ZM880.0 788.0H1401.8V792.0H880.0Z" fill="#000"/>
<text x="1081.3" y="572.9" text-anchor="middle" textLength="352.9" lengthAdjust="spacingAndGlyphs">XGBoost for Test Data</text>
<text font-size="35.3" x="852.5" y="639.7" text-anchor="end" textLength="32.5" lengthAdjust="spacingAndGlyphs">10</text>
<text font-size="35.3" x="852.5" y="720.3" text-anchor="end" textLength="16.2" lengthAdjust="spacingAndGlyphs">5</text>
<text font-size="35.3" x="852.5" y="800.9" text-anchor="end" textLength="16.2" lengthAdjust="spacingAndGlyphs">0</text>
<text font-size="35.3" x="852.5" y="882.6" text-anchor="end" textLength="29.6" lengthAdjust="spacingAndGlyphs"><tspan letter-spacing="2.8">-</tspan>5</text>
<text font-size="35.3" x="852.5" y="961.1" text-anchor="end" textLength="45.9" lengthAdjust="spacingAndGlyphs"><tspan letter-spacing="2.8">-</tspan>10</text>
<text x="1140.8" y="992.9" text-anchor="middle" textLength="253.5" lengthAdjust="spacingAndGlyphs">Predicted <tspan font-style="italic">d</tspan> (cm)</text>
<text transform="translate(787.7 790.9) rotate(-90) scale(1 1.07)" text-anchor="middle" textLength="228.0" lengthAdjust="spacingAndGlyphs">Residuals (cm)</text>
<g fill="#a6a6a6" stroke="#000" stroke-width="3.3">
<circle cx="988.5" cy="834.7" r="9.75"/><circle cx="949.9" cy="749.1" r="9.75"/><circle cx="1092.5" cy="824.4" r="9.75"/><circle cx="1059.0" cy="717.2" r="9.75"/><circle cx="1034.3" cy="757.7" r="9.75"/><circle cx="957.4" cy="771.3" r="9.75"/><circle cx="1149.0" cy="714.4" r="9.75"/><circle cx="1011.8" cy="758.2" r="9.75"/>
<circle cx="980.4" cy="753.1" r="9.75"/><circle cx="940.5" cy="740.9" r="9.75"/><circle cx="1076.8" cy="761.9" r="9.75"/><circle cx="1191.3" cy="744.2" r="9.75"/><circle cx="1231.8" cy="757.6" r="9.75"/><circle cx="1087.5" cy="895.6" r="9.75"/><circle cx="1018.9" cy="776.4" r="9.75"/><circle cx="1108.2" cy="753.5" r="9.75"/>
<circle cx="1181.7" cy="779.7" r="9.75"/><circle cx="1148.3" cy="714.4" r="9.75"/><circle cx="1035.9" cy="701.3" r="9.75"/><circle cx="1132.8" cy="733.9" r="9.75"/><circle cx="1107.7" cy="794.7" r="9.75"/><circle cx="1092.8" cy="792.3" r="9.75"/><circle cx="1028.3" cy="738.3" r="9.75"/><circle cx="992.1" cy="731.5" r="9.75"/>
<circle cx="998.2" cy="747.2" r="9.75"/><circle cx="1205.3" cy="821.2" r="9.75"/><circle cx="990.4" cy="802.6" r="9.75"/><circle cx="988.0" cy="724.2" r="9.75"/><circle cx="998.6" cy="800.2" r="9.75"/><circle cx="969.0" cy="767.9" r="9.75"/><circle cx="1056.3" cy="856.6" r="9.75"/><circle cx="1031.7" cy="806.7" r="9.75"/>
<circle cx="1077.8" cy="727.8" r="9.75"/><circle cx="1053.6" cy="764.6" r="9.75"/><circle cx="1131.0" cy="760.9" r="9.75"/><circle cx="1115.3" cy="794.1" r="9.75"/><circle cx="936.5" cy="757.9" r="9.75"/><circle cx="1040.8" cy="826.9" r="9.75"/><circle cx="1162.7" cy="820.0" r="9.75"/><circle cx="940.9" cy="812.2" r="9.75"/>
<circle cx="1044.5" cy="742.7" r="9.75"/><circle cx="1066.6" cy="740.0" r="9.75"/><circle cx="1049.0" cy="727.5" r="9.75"/><circle cx="1082.1" cy="841.3" r="9.75"/><circle cx="1045.6" cy="798.2" r="9.75"/><circle cx="1138.7" cy="746.2" r="9.75"/><circle cx="1056.3" cy="735.3" r="9.75"/><circle cx="1146.6" cy="751.1" r="9.75"/>
<circle cx="994.3" cy="739.9" r="9.75"/><circle cx="1057.5" cy="740.0" r="9.75"/><circle cx="981.0" cy="713.0" r="9.75"/><circle cx="1068.8" cy="871.9" r="9.75"/><circle cx="1285.6" cy="805.8" r="9.75"/><circle cx="1128.9" cy="809.3" r="9.75"/><circle cx="1245.7" cy="818.1" r="9.75"/><circle cx="1000.6" cy="817.6" r="9.75"/>
<circle cx="1033.5" cy="743.8" r="9.75"/><circle cx="1016.8" cy="767.3" r="9.75"/><circle cx="955.9" cy="832.9" r="9.75"/><circle cx="1258.8" cy="720.5" r="9.75"/><circle cx="1124.0" cy="751.0" r="9.75"/><circle cx="1049.4" cy="827.6" r="9.75"/><circle cx="963.8" cy="762.3" r="9.75"/><circle cx="1054.7" cy="757.1" r="9.75"/>
<circle cx="1167.1" cy="843.2" r="9.75"/><circle cx="1071.7" cy="788.9" r="9.75"/><circle cx="979.6" cy="856.6" r="9.75"/><circle cx="1074.2" cy="736.1" r="9.75"/><circle cx="1166.7" cy="781.1" r="9.75"/><circle cx="1094.5" cy="804.9" r="9.75"/><circle cx="1153.9" cy="849.6" r="9.75"/><circle cx="1086.2" cy="820.3" r="9.75"/>
<circle cx="981.5" cy="719.1" r="9.75"/><circle cx="979.0" cy="822.8" r="9.75"/><circle cx="1169.4" cy="770.2" r="9.75"/><circle cx="1134.2" cy="752.6" r="9.75"/><circle cx="1077.0" cy="782.1" r="9.75"/><circle cx="948.1" cy="733.1" r="9.75"/><circle cx="1102.4" cy="736.1" r="9.75"/><circle cx="1022.4" cy="842.9" r="9.75"/>
<circle cx="987.9" cy="759.4" r="9.75"/><circle cx="1135.7" cy="897.0" r="9.75"/><circle cx="1194.2" cy="782.1" r="9.75"/><circle cx="971.2" cy="831.6" r="9.75"/><circle cx="1023.1" cy="826.0" r="9.75"/><circle cx="1069.7" cy="843.1" r="9.75"/><circle cx="1229.8" cy="823.1" r="9.75"/><circle cx="995.2" cy="711.5" r="9.75"/>
<circle cx="1143.9" cy="739.5" r="9.75"/><circle cx="1053.8" cy="846.6" r="9.75"/><circle cx="995.9" cy="754.6" r="9.75"/><circle cx="1024.8" cy="715.5" r="9.75"/><circle cx="1000.5" cy="876.1" r="9.75"/><circle cx="989.8" cy="842.7" r="9.75"/><circle cx="1059.5" cy="812.5" r="9.75"/><circle cx="1128.0" cy="828.2" r="9.75"/>
<circle cx="1069.9" cy="779.2" r="9.75"/><circle cx="930.7" cy="781.2" r="9.75"/><circle cx="951.7" cy="851.0" r="9.75"/><circle cx="1017.9" cy="810.1" r="9.75"/><circle cx="1117.3" cy="775.7" r="9.75"/><circle cx="1036.7" cy="878.9" r="9.75"/><circle cx="1062.9" cy="782.9" r="9.75"/><circle cx="960.7" cy="834.6" r="9.75"/>
<circle cx="1100.7" cy="757.4" r="9.75"/><circle cx="939.3" cy="748.7" r="9.75"/><circle cx="1188.0" cy="815.3" r="9.75"/><circle cx="931.5" cy="751.8" r="9.75"/><circle cx="1094.1" cy="782.6" r="9.75"/><circle cx="939.5" cy="771.6" r="9.75"/><circle cx="1005.6" cy="833.5" r="9.75"/><circle cx="1108.8" cy="807.4" r="9.75"/>
<circle cx="1085.8" cy="749.0" r="9.75"/><circle cx="987.4" cy="826.3" r="9.75"/><circle cx="986.6" cy="745.6" r="9.75"/><circle cx="1068.8" cy="801.0" r="9.75"/><circle cx="1049.3" cy="863.6" r="9.75"/><circle cx="1130.6" cy="775.2" r="9.75"/><circle cx="1120.2" cy="824.2" r="9.75"/><circle cx="1039.6" cy="708.0" r="9.75"/>
<circle cx="1033.0" cy="715.0" r="9.75"/><circle cx="1050.6" cy="854.2" r="9.75"/><circle cx="1141.9" cy="779.0" r="9.75"/><circle cx="1123.6" cy="800.6" r="9.75"/><circle cx="1081.4" cy="775.3" r="9.75"/><circle cx="1186.6" cy="770.4" r="9.75"/><circle cx="1202.5" cy="779.4" r="9.75"/><circle cx="955.0" cy="803.8" r="9.75"/>
<circle cx="1019.6" cy="753.4" r="9.75"/><circle cx="1183.0" cy="766.0" r="9.75"/><circle cx="1160.1" cy="850.5" r="9.75"/><circle cx="1123.5" cy="771.5" r="9.75"/><circle cx="1183.3" cy="787.6" r="9.75"/><circle cx="930.6" cy="797.0" r="9.75"/><circle cx="968.6" cy="732.7" r="9.75"/><circle cx="930.8" cy="763.1" r="9.75"/>
<circle cx="1002.8" cy="713.3" r="9.75"/><circle cx="1056.6" cy="771.8" r="9.75"/><circle cx="929.0" cy="773.4" r="9.75"/><circle cx="1125.4" cy="791.9" r="9.75"/><circle cx="958.5" cy="810.7" r="9.75"/><circle cx="956.0" cy="742.6" r="9.75"/><circle cx="1046.3" cy="772.2" r="9.75"/><circle cx="1013.0" cy="696.8" r="9.75"/>
<circle cx="1174.2" cy="783.8" r="9.75"/><circle cx="994.7" cy="812.7" r="9.75"/><circle cx="1015.6" cy="802.3" r="9.75"/><circle cx="1066.0" cy="760.0" r="9.75"/><circle cx="1130.0" cy="859.4" r="9.75"/><circle cx="1061.5" cy="732.7" r="9.75"/><circle cx="1192.7" cy="768.8" r="9.75"/><circle cx="1015.1" cy="845.0" r="9.75"/>
<circle cx="1026.8" cy="812.7" r="9.75"/><circle cx="1100.1" cy="747.0" r="9.75"/><circle cx="945.1" cy="754.9" r="9.75"/><circle cx="1103.1" cy="787.0" r="9.75"/><circle cx="1050.5" cy="734.9" r="9.75"/><circle cx="981.7" cy="806.4" r="9.75"/><circle cx="1015.8" cy="692.1" r="9.75"/><circle cx="1048.8" cy="787.0" r="9.75"/>
<circle cx="1155.3" cy="784.3" r="9.75"/><circle cx="1102.1" cy="769.6" r="9.75"/><circle cx="1052.6" cy="795.2" r="9.75"/><circle cx="1112.2" cy="825.7" r="9.75"/><circle cx="1028.2" cy="835.5" r="9.75"/><circle cx="987.4" cy="713.1" r="9.75"/><circle cx="1039.7" cy="804.5" r="9.75"/><circle cx="982.1" cy="849.5" r="9.75"/>
<circle cx="1078.6" cy="846.8" r="9.75"/><circle cx="985.0" cy="784.3" r="9.75"/><circle cx="1115.8" cy="756.7" r="9.75"/><circle cx="1134.3" cy="739.6" r="9.75"/><circle cx="1001.1" cy="696.2" r="9.75"/><circle cx="1160.5" cy="774.8" r="9.75"/><circle cx="950.5" cy="796.0" r="9.75"/><circle cx="1024.7" cy="761.3" r="9.75"/>
<circle cx="969.5" cy="813.0" r="9.75"/><circle cx="1110.2" cy="735.8" r="9.75"/><circle cx="979.1" cy="736.8" r="9.75"/><circle cx="1146.7" cy="817.6" r="9.75"/><circle cx="1077.8" cy="801.8" r="9.75"/><circle cx="1088.2" cy="811.2" r="9.75"/><circle cx="1018.7" cy="726.3" r="9.75"/><circle cx="1002.1" cy="704.9" r="9.75"/>
<circle cx="1078.8" cy="818.8" r="9.75"/><circle cx="1222.0" cy="754.8" r="9.75"/><circle cx="925.2" cy="767.4" r="9.75"/><circle cx="1093.3" cy="752.0" r="9.75"/><circle cx="1140.7" cy="769.7" r="9.75"/><circle cx="960.6" cy="729.5" r="9.75"/><circle cx="977.2" cy="787.4" r="9.75"/><circle cx="1039.6" cy="785.1" r="9.75"/>
<circle cx="1094.8" cy="816.9" r="9.75"/><circle cx="981.2" cy="729.5" r="9.75"/><circle cx="1106.4" cy="729.0" r="9.75"/><circle cx="1139.5" cy="787.7" r="9.75"/><circle cx="1105.9" cy="720.0" r="9.75"/><circle cx="1001.5" cy="733.3" r="9.75"/><circle cx="1067.4" cy="727.4" r="9.75"/><circle cx="1087.1" cy="802.3" r="9.75"/>
<circle cx="967.0" cy="720.0" r="9.75"/><circle cx="951.1" cy="813.5" r="9.75"/><circle cx="1116.4" cy="783.2" r="9.75"/><circle cx="1004.5" cy="808.2" r="9.75"/><circle cx="952.8" cy="780.1" r="9.75"/><circle cx="1168.4" cy="803.2" r="9.75"/><circle cx="969.6" cy="801.8" r="9.75"/><circle cx="1023.7" cy="804.0" r="9.75"/>
<circle cx="1018.1" cy="745.7" r="9.75"/><circle cx="1046.3" cy="815.4" r="9.75"/><circle cx="1031.4" cy="782.6" r="9.75"/><circle cx="1067.6" cy="822.3" r="9.75"/><circle cx="1030.8" cy="825.3" r="9.75"/><circle cx="1305.7" cy="821.7" r="9.75"/><circle cx="1179.1" cy="771.8" r="9.75"/><circle cx="996.3" cy="696.3" r="9.75"/>
<circle cx="1122.7" cy="815.3" r="9.75"/><circle cx="1062.4" cy="846.0" r="9.75"/><circle cx="1190.9" cy="794.6" r="9.75"/><circle cx="1060.3" cy="723.9" r="9.75"/><circle cx="970.1" cy="723.9" r="9.75"/><circle cx="1066.3" cy="835.5" r="9.75"/><circle cx="1001.7" cy="842.9" r="9.75"/><circle cx="1202.0" cy="792.4" r="9.75"/>
<circle cx="1047.1" cy="711.7" r="9.75"/><circle cx="929.8" cy="789.0" r="9.75"/><circle cx="1027.0" cy="865.0" r="9.75"/><circle cx="1006.3" cy="772.8" r="9.75"/><circle cx="928.0" cy="745.0" r="9.75"/><circle cx="974.1" cy="743.0" r="9.75"/><circle cx="1179.8" cy="810.4" r="9.75"/><circle cx="1026.2" cy="748.6" r="9.75"/>
<circle cx="1132.1" cy="795.3" r="9.75"/><circle cx="1150.4" cy="808.2" r="9.75"/><circle cx="1043.8" cy="845.1" r="9.75"/><circle cx="1170.4" cy="764.6" r="9.75"/><circle cx="1153.7" cy="777.1" r="9.75"/><circle cx="946.2" cy="739.4" r="9.75"/><circle cx="1171.0" cy="815.2" r="9.75"/><circle cx="1136.3" cy="830.0" r="9.75"/>
<circle cx="1153.0" cy="772.3" r="9.75"/><circle cx="1151.3" cy="799.8" r="9.75"/><circle cx="1159.1" cy="804.1" r="9.75"/><circle cx="978.8" cy="840.0" r="9.75"/><circle cx="1055.1" cy="747.7" r="9.75"/><circle cx="1108.0" cy="775.8" r="9.75"/><circle cx="1143.7" cy="759.2" r="9.75"/><circle cx="968.5" cy="754.8" r="9.75"/>
<circle cx="1106.5" cy="743.1" r="9.75"/><circle cx="1061.4" cy="828.8" r="9.75"/><circle cx="1074.9" cy="829.2" r="9.75"/><circle cx="1019.5" cy="736.5" r="9.75"/><circle cx="1019.9" cy="795.8" r="9.75"/><circle cx="1159.9" cy="828.4" r="9.75"/><circle cx="1220.6" cy="798.6" r="9.75"/><circle cx="978.8" cy="814.8" r="9.75"/>
<circle cx="1171.8" cy="772.9" r="9.75"/><circle cx="1062.3" cy="751.9" r="9.75"/><circle cx="1209.5" cy="805.0" r="9.75"/><circle cx="1160.4" cy="811.7" r="9.75"/><circle cx="1081.1" cy="808.7" r="9.75"/><circle cx="981.6" cy="831.2" r="9.75"/><circle cx="1092.5" cy="763.0" r="9.75"/><circle cx="998.6" cy="772.7" r="9.75"/>
<circle cx="1151.7" cy="828.5" r="9.75"/><circle cx="1007.8" cy="797.1" r="9.75"/><circle cx="953.6" cy="735.3" r="9.75"/><circle cx="943.9" cy="800.8" r="9.75"/><circle cx="1093.9" cy="742.3" r="9.75"/><circle cx="964.9" cy="825.5" r="9.75"/><circle cx="1050.1" cy="708.0" r="9.75"/><circle cx="980.3" cy="761.1" r="9.75"/>
<circle cx="1011.2" cy="813.7" r="9.75"/><circle cx="1027.7" cy="797.5" r="9.75"/><circle cx="1011.0" cy="785.2" r="9.75"/><circle cx="1102.0" cy="802.1" r="9.75"/><circle cx="1064.6" cy="773.1" r="9.75"/><circle cx="1022.8" cy="715.8" r="9.75"/><circle cx="1098.1" cy="845.4" r="9.75"/><circle cx="937.9" cy="788.2" r="9.75"/>
<circle cx="1193.5" cy="774.6" r="9.75"/><circle cx="960.4" cy="796.5" r="9.75"/><circle cx="935.4" cy="804.8" r="9.75"/><circle cx="1016.8" cy="703.4" r="9.75"/><circle cx="1051.6" cy="809.5" r="9.75"/><circle cx="1161.3" cy="790.2" r="9.75"/><circle cx="1109.2" cy="838.5" r="9.75"/><circle cx="1038.8" cy="750.0" r="9.75"/>
<circle cx="1148.7" cy="817.6" r="9.75"/><circle cx="1047.8" cy="719.3" r="9.75"/><circle cx="1023.7" cy="853.5" r="9.75"/><circle cx="1126.3" cy="741.9" r="9.75"/><circle cx="1060.3" cy="791.9" r="9.75"/><circle cx="1021.3" cy="818.0" r="9.75"/><circle cx="1093.1" cy="838.7" r="9.75"/><circle cx="1138.4" cy="803.7" r="9.75"/>
<circle cx="963.4" cy="776.4" r="9.75"/><circle cx="1181.6" cy="724.7" r="9.75"/><circle cx="992.0" cy="776.9" r="9.75"/><circle cx="1016.4" cy="717.3" r="9.75"/><circle cx="946.7" cy="774.1" r="9.75"/><circle cx="1130.0" cy="845.4" r="9.75"/><circle cx="1166.3" cy="788.3" r="9.75"/><circle cx="1075.9" cy="746.6" r="9.75"/>
<circle cx="1032.3" cy="730.1" r="9.75"/><circle cx="996.7" cy="763.9" r="9.75"/><circle cx="1086.9" cy="756.8" r="9.75"/><circle cx="1141.2" cy="795.1" r="9.75"/><circle cx="1080.0" cy="724.1" r="9.75"/><circle cx="1085.0" cy="786.1" r="9.75"/><circle cx="1170.4" cy="793.8" r="9.75"/><circle cx="988.4" cy="817.3" r="9.75"/>
<circle cx="1027.3" cy="724.0" r="9.75"/><circle cx="1075.9" cy="836.9" r="9.75"/><circle cx="1037.9" cy="723.3" r="9.75"/><circle cx="1057.4" cy="820.2" r="9.75"/><circle cx="1055.2" cy="779.6" r="9.75"/><circle cx="1177.5" cy="819.2" r="9.75"/><circle cx="1129.0" cy="784.1" r="9.75"/><circle cx="993.2" cy="718.7" r="9.75"/>
<circle cx="1013.3" cy="833.2" r="9.75"/><circle cx="947.5" cy="820.6" r="9.75"/><circle cx="957.1" cy="844.8" r="9.75"/><circle cx="1133.2" cy="819.9" r="9.75"/><circle cx="1115.6" cy="802.7" r="9.75"/><circle cx="1033.0" cy="847.0" r="9.75"/><circle cx="1084.4" cy="766.0" r="9.75"/><circle cx="1131.4" cy="836.7" r="9.75"/>
<circle cx="974.0" cy="842.7" r="9.75"/><circle cx="1038.7" cy="776.0" r="9.75"/><circle cx="1151.8" cy="750.6" r="9.75"/><circle cx="1188.6" cy="819.0" r="9.75"/><circle cx="1004.4" cy="755.6" r="9.75"/><circle cx="1181.0" cy="801.8" r="9.75"/><circle cx="1157.4" cy="766.2" r="9.75"/><circle cx="1103.4" cy="816.1" r="9.75"/>
<circle cx="1157.9" cy="802.8" r="9.75"/><circle cx="970.0" cy="791.7" r="9.75"/><circle cx="1020.7" cy="834.9" r="9.75"/><circle cx="1071.5" cy="812.7" r="9.75"/><circle cx="1102.9" cy="837.5" r="9.75"/><circle cx="996.3" cy="828.9" r="9.75"/><circle cx="964.3" cy="741.1" r="9.75"/><circle cx="957.0" cy="758.9" r="9.75"/>
<circle cx="1081.9" cy="795.4" r="9.75"/><circle cx="1076.2" cy="754.3" r="9.75"/><circle cx="938.6" cy="779.5" r="9.75"/><circle cx="1036.0" cy="792.2" r="9.75"/><circle cx="963.6" cy="817.9" r="9.75"/><circle cx="1006.1" cy="765.0" r="9.75"/><circle cx="1040.5" cy="766.1" r="9.75"/><circle cx="957.7" cy="751.1" r="9.75"/>
<circle cx="1098.1" cy="901.2" r="9.75"/><circle cx="985.5" cy="772.7" r="9.75"/><circle cx="1198.2" cy="815.5" r="9.75"/><circle cx="1130.2" cy="732.5" r="9.75"/><circle cx="1044.1" cy="837.3" r="9.75"/><circle cx="1123.2" cy="762.5" r="9.75"/><circle cx="1151.2" cy="761.8" r="9.75"/><circle cx="982.5" cy="797.8" r="9.75"/>
<circle cx="1205.9" cy="771.5" r="9.75"/><circle cx="1009.7" cy="709.2" r="9.75"/><circle cx="1149.7" cy="779.2" r="9.75"/><circle cx="1098.8" cy="830.3" r="9.75"/><circle cx="946.7" cy="787.9" r="9.75"/><circle cx="1011.7" cy="750.6" r="9.75"/><circle cx="1085.5" cy="738.1" r="9.75"/><circle cx="1112.7" cy="834.7" r="9.75"/>
<circle cx="1127.4" cy="845.4" r="9.75"/><circle cx="1122.5" cy="834.8" r="9.75"/><circle cx="1042.9" cy="756.6" r="9.75"/><circle cx="1264.7" cy="815.6" r="9.75"/><circle cx="1141.6" cy="813.0" r="9.75"/><circle cx="1098.1" cy="732.0" r="9.75"/><circle cx="1019.3" cy="787.9" r="9.75"/><circle cx="1010.3" cy="825.8" r="9.75"/>
<circle cx="921.7" cy="783.5" r="9.75"/><circle cx="1075.2" cy="880.3" r="9.75"/><circle cx="1243.5" cy="754.8" r="9.75"/><circle cx="978.3" cy="770.2" r="9.75"/><circle cx="1124.6" cy="859.4" r="9.75"/><circle cx="1027.1" cy="768.7" r="9.75"/><circle cx="1116.2" cy="765.5" r="9.75"/><circle cx="1091.2" cy="773.1" r="9.75"/>
<circle cx="1085.3" cy="735.7" r="9.75"/><circle cx="1035.6" cy="836.9" r="9.75"/><circle cx="1142.1" cy="823.0" r="9.75"/><circle cx="978.6" cy="779.6" r="9.75"/><circle cx="1004.9" cy="743.0" r="9.75"/><circle cx="948.3" cy="763.0" r="9.75"/><circle cx="971.7" cy="820.8" r="9.75"/><circle cx="932.2" cy="819.0" r="9.75"/>
<circle cx="1190.7" cy="804.1" r="9.75"/><circle cx="986.5" cy="852.4" r="9.75"/><circle cx="988.9" cy="790.7" r="9.75"/><circle cx="1038.1" cy="844.0" r="9.75"/><circle cx="955.8" cy="819.9" r="9.75"/><circle cx="1042.2" cy="734.1" r="9.75"/><circle cx="1035.9" cy="819.3" r="9.75"/><circle cx="1107.2" cy="763.6" r="9.75"/>
<circle cx="1007.7" cy="728.1" r="9.75"/><circle cx="1005.5" cy="687.9" r="9.75"/><circle cx="966.0" cy="840.1" r="9.75"/><circle cx="1058.4" cy="801.4" r="9.75"/><circle cx="1003.0" cy="721.3" r="9.75"/><circle cx="999.2" cy="781.0" r="9.75"/><circle cx="1100.6" cy="778.6" r="9.75"/><circle cx="998.2" cy="790.2" r="9.75"/>
<circle cx="970.9" cy="782.0" r="9.75"/><circle cx="1113.7" cy="745.5" r="9.75"/><circle cx="1047.7" cy="750.0" r="9.75"/><circle cx="1012.7" cy="740.3" r="9.75"/><circle cx="916.8" cy="775.7" r="9.75"/><circle cx="959.4" cy="787.2" r="9.75"/><circle cx="1150.2" cy="790.8" r="9.75"/><circle cx="1087.2" cy="830.0" r="9.75"/>
<circle cx="1038.1" cy="812.0" r="9.75"/><circle cx="1114.9" cy="817.7" r="9.75"/><circle cx="994.1" cy="889.2" r="9.75"/><circle cx="1178.0" cy="794.8" r="9.75"/><circle cx="1200.8" cy="804.1" r="9.75"/><circle cx="982.0" cy="722.0" r="9.75"/><circle cx="1056.3" cy="838.7" r="9.75"/><circle cx="1171.8" cy="824.0" r="9.75"/>
<circle cx="1008.9" cy="846.8" r="9.75"/><circle cx="1010.2" cy="700.4" r="9.75"/><circle cx="1146.9" cy="743.7" r="9.75"/><circle cx="1070.5" cy="768.2" r="9.75"/><circle cx="1117.6" cy="747.8" r="9.75"/>
</g>
<text font-size="35.3" x="881.8" y="841.5" text-anchor="middle" textLength="16.2" lengthAdjust="spacingAndGlyphs">0</text>
<text font-size="35.3" x="1011.4" y="841.5" text-anchor="middle" textLength="32.5" lengthAdjust="spacingAndGlyphs" style="stroke:none;fill-opacity:0.8">20</text>
<text font-size="35.3" x="1141.0" y="841.5" text-anchor="middle" textLength="32.5" lengthAdjust="spacingAndGlyphs" style="stroke:none;fill-opacity:0.8">40</text>
<text font-size="35.3" x="1270.7" y="841.5" text-anchor="middle" textLength="32.5" lengthAdjust="spacingAndGlyphs">60</text>
<text font-size="35.3" x="1400.3" y="841.5" text-anchor="middle" textLength="32.5" lengthAdjust="spacingAndGlyphs">80</text>
</g>
</svg>
</body></html>
